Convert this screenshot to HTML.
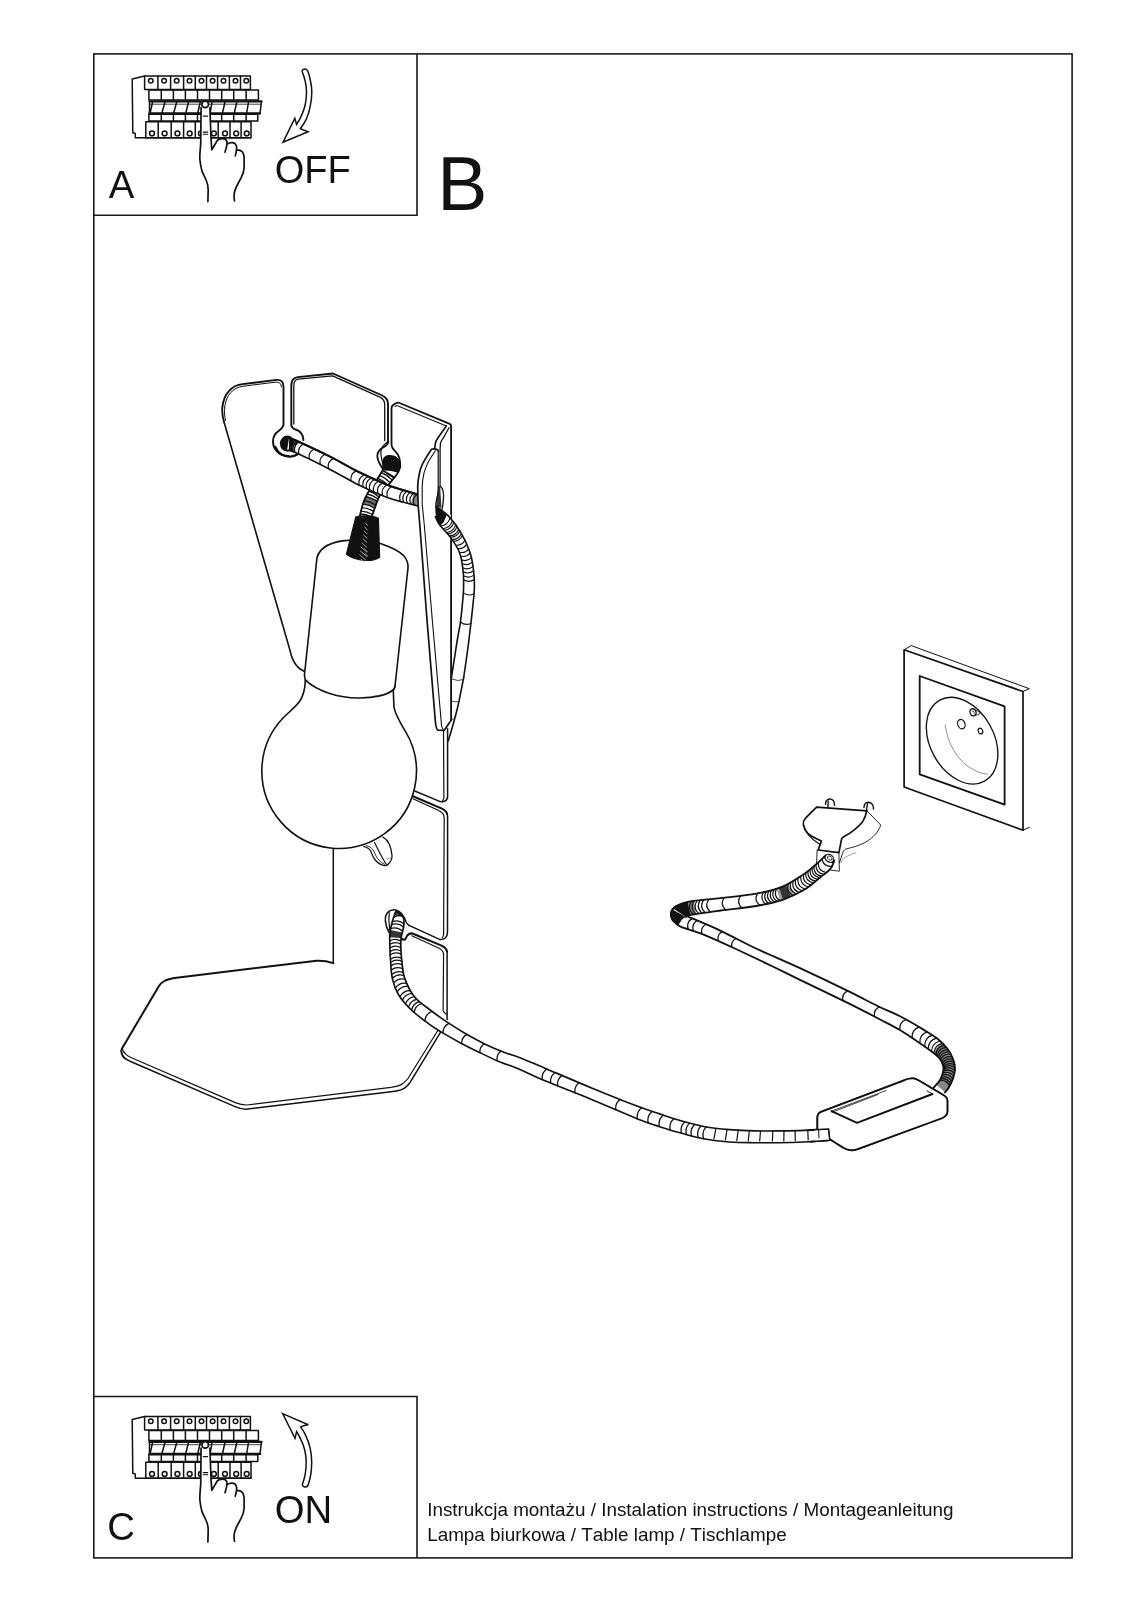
<!DOCTYPE html>
<html><head><meta charset="utf-8"><title>Instrukcja</title>
<style>html,body{margin:0;padding:0;background:#fff}svg{display:block}</style></head>
<body><svg width="1131" height="1600" viewBox="0 0 1131 1600">
<rect width="1131" height="1600" fill="#fff"/>
<g fill="none" stroke="#1a1a1a" stroke-width="1.6" stroke-linejoin="miter">
<rect x="93.8" y="53.9" width="978.3" height="1504"/>
<path d="M417 53.9V215.3H93.8"/>
<path d="M93.8 1396.5H417V1557.9"/>
</g>
<g font-family="Liberation Sans, sans-serif" fill="#111" style="filter:grayscale(1);font-kerning:none">
<text x="108.7" y="198.4" font-size="38.3">A</text>
<text x="274.8" y="182.8" font-size="38">OFF</text>
<text x="437.2" y="210" font-size="75.2">B</text>
<text x="107.3" y="1540.4" font-size="38.3">C</text>
<text x="274.8" y="1522.7" font-size="38.3">ON</text>
<text x="427.2" y="1515.9" font-size="18.88">Instrukcja montażu / Instalation instructions / Montageanleitung</text>
<text x="427.2" y="1540.7" font-size="18.88">Lampa biurkowa / Table lamp / Tischlampe</text>
</g>
<defs><g id="brk" fill="none" stroke="#111" stroke-width="1.5" stroke-linejoin="round" stroke-linecap="round">
<path d="M144.6 75.9L132.2 79L132.8 132.8L135.3 133.5L135.3 137.8L251 137.8" stroke-width="1.5"/>
<path d="M144.6 75.9H250.4V89.5H144.6Z" fill="#fff"/>
<path d="M157.9 75.9V89.5M170.6 75.9V89.5M183.6 75.9V89.5M195.3 75.9V89.5M206.5 75.9V89.5M217.6 75.9V89.5M229.4 75.9V89.5M240.5 75.9V89.5"/>
<circle cx="150.8" cy="80.7" r="2.3" stroke-width="1.5"/>
<circle cx="164.1" cy="80.7" r="2.3" stroke-width="1.5"/>
<circle cx="176.7" cy="80.7" r="2.3" stroke-width="1.5"/>
<circle cx="189.5" cy="80.7" r="2.3" stroke-width="1.5"/>
<circle cx="201.5" cy="80.7" r="2.3" stroke-width="1.5"/>
<circle cx="212.6" cy="80.7" r="2.3" stroke-width="1.5"/>
<circle cx="223.5" cy="80.7" r="2.3" stroke-width="1.5"/>
<circle cx="235.5" cy="80.7" r="2.3" stroke-width="1.5"/>
<circle cx="246.3" cy="80.7" r="2.3" stroke-width="1.5"/>
<path d="M148.9 90.1H258.4V100H148.9Z"/>
<path d="M161.3 90.1V100M173.4 90.1V100M185.4 90.1V100M197.5 90.1V100M209.5 90.1V100M221.7 90.1V100M233.7 90.1V100M246.1 90.1V100"/>
<path d="M149.5 101.4H261.5" stroke-width="2.2"/>
<path d="M149.5 113.4H260" stroke-width="2.4"/>
<path d="M150 104.2H261" stroke-width="0.8"/>
<path d="M149.5 101.4V113.4M261.5 101.4L260 113.4"/>
<path d="M152.6 102L150.1 113M165.0 102L161.9 113M176.7 102L173.7 113M188.5 102L185.8 113M200.3 102L197.8 113M212.0 102L210.2 113M225.0 102L222.5 113M236.8 102L234.3 113M248.5 102L246.7 113" stroke-width="1.5"/>
<path d="M148.9 114.3H257.8V121.1H148.9Z"/>
<path d="M161.3 114.3V121.1M173.4 114.3V121.1M185.4 114.3V121.1M197.5 114.3V121.1M209.5 114.3V121.1M221.7 114.3V121.1M233.7 114.3V121.1M246.1 114.3V121.1"/>
<path d="M145.8 121.7H251V137.8H145.8Z"/>
<path d="M158.2 121.7V137.8M171.2 121.7V137.8M183.6 121.7V137.8M195.3 121.7V137.8M207.1 121.7V137.8M218.2 121.7V137.8M230.0 121.7V137.8M241.1 121.7V137.8"/>
<circle cx="152.0" cy="133.4" r="2.4" stroke-width="1.5"/>
<circle cx="164.6" cy="133.4" r="2.4" stroke-width="1.5"/>
<circle cx="177.4" cy="133.4" r="2.4" stroke-width="1.5"/>
<circle cx="189.7" cy="133.4" r="2.4" stroke-width="1.5"/>
<circle cx="200.9" cy="133.4" r="2.4" stroke-width="1.5"/>
<circle cx="213.9" cy="133.4" r="2.4" stroke-width="1.5"/>
<circle cx="225.0" cy="133.4" r="2.4" stroke-width="1.5"/>
<circle cx="236.2" cy="133.4" r="2.4" stroke-width="1.5"/>
<circle cx="246.7" cy="133.4" r="2.4" stroke-width="1.5"/>
<path d="M201.1 108 L200.7 143.9 C200.3 150 199.5 155 199.9 159.8 C200.3 164 201 167.5 201.9 170.9 C203.5 175 205.3 177.5 206.3 180.5 C207.8 184 208.3 187 208.2 190 L207.9 201.6 L234.5 200.8 C234 198 233.8 196.5 234.1 194.8 C234.5 192.5 235 190.5 235.7 188.4 C237.5 184 239.8 181 241.3 177.3 C243 173.5 244 170.5 244.1 167.7 L244.1 157.4 C243.8 154 243 151.8 241.3 151 C240 150 238.5 150 237.3 150.2 L236.5 146.3 C235.5 143.5 233.8 142.5 231.7 142.7 C230 142.8 228.6 143.2 227.7 143.9 L226.9 141.5 C225.8 139.2 224 138.5 222.2 138.7 C220 139 218.5 139.5 217.4 140.3 L211.8 149.8 L211 138.3 L209.8 108 Z" fill="#fff" stroke="none"/>
<path d="M201.1 107.5 L200.7 143.9 C200.3 150 199.5 155 199.9 159.8 C200.3 164 201 167.5 201.9 170.9 C203.5 175 205.3 177.5 206.3 180.5 C207.8 184 208.3 187 208.2 190 L207.9 201.6" stroke-width="1.7"/>
<path d="M209.9 107.5 L211 138.3 L211.8 149.8 L217.4 140.3 C218.5 139.3 220 138.9 222.2 138.7 C224.5 138.5 226.2 139.5 226.9 141.5 C227.4 144 226.3 148 225 152.2" stroke-width="1.7"/>
<path d="M227.7 143.9 C228.6 143.2 230 142.8 231.7 142.7 C234 142.6 235.8 143.8 236.5 146.3 C237 149 236.3 152 235.3 155.8" stroke-width="1.7"/>
<path d="M237.3 150.2 C238.5 150 240 150.1 241.3 151 C243 152 243.8 154.5 244.1 157.4 L244.1 167.7 C244 171 243 174 241.3 177.3 C239.5 181 237.3 184.5 235.7 188.4 C234.7 191 234.2 193 234.1 194.8 C234 197 234.2 199 234.5 200.8" stroke-width="1.7"/>
<circle cx="205.2" cy="104.4" r="3.3" fill="#fff" stroke-width="1.7"/>
<path d="M203.3 116.1H207.6M203.3 132.1H207.7M203.3 134.2H207.7" stroke-width="1.1"/>
</g></defs>
<use href="#brk"/>
<use href="#brk" transform="translate(0 1340.5)"/>
<path d="M305 68.9 C303.2 68.9 301.8 70.2 302.2 71.8 C303.5 75 304.6 78.3 305.3 81.7 C306.1 85 306.5 88.6 306.5 92.2 C306.5 96.8 306 101.3 305 105.8 C304 109.6 302.6 113.3 300.9 116.9 C299.7 119.5 298.2 122 296.6 124.4 L294.8 118.2 L283 142.3 L308.1 131.8 L300.3 128.7 C302.7 125.6 304.8 122.3 306.5 118.8 C308.2 114.8 309.4 110.7 310.2 106.4 C311.2 101.7 311.8 97 311.8 92.2 C311.8 88.4 311.3 84.7 310.5 81 C309.9 77.6 309 74.3 307.8 71.1 C307.4 69.7 306.4 68.9 305 68.9Z" fill="#fff" stroke="#111" stroke-width="1.5" stroke-linejoin="miter"/>
<path d="M282.6 1413.6 L308.3 1424.8 C305.5 1425 303 1425.7 300.6 1426.9 C302.7 1429.7 304.5 1432.7 305.9 1435.9 C307.8 1439.9 309.2 1444 310.2 1448.3 C311.2 1452.8 311.7 1457.3 311.7 1461.9 C311.7 1466.1 311.4 1470.2 310.8 1474.3 C310.2 1478.1 309.2 1481.8 308 1485.4 C307.5 1486.5 306.4 1487.1 304.9 1486.9 C303.2 1486.7 302.1 1485.6 302.4 1484.2 C303.6 1481 304.6 1477.7 305.2 1474.3 C305.9 1470.2 306.2 1466.1 306.2 1461.9 C306.2 1457.7 305.6 1453.6 304.6 1449.5 C303.7 1446.1 302.5 1442.8 300.9 1439.6 C299.7 1436.8 298.2 1434.2 296.6 1431.6 L295 1438.4Z" fill="#fff" stroke="#111" stroke-width="1.5" stroke-linejoin="miter"/>
<g stroke-linejoin="round" stroke-linecap="round">
<path d="M304.5 671.4 C296 668 291.5 658 289.9 650 L224.1 422.3" fill="none" stroke="#111" stroke-width="1.6" />
<path d="M224.1 422.3 C222.3 416 221.8 412 222.4 406.8 C224 393 232 385.5 242.5 384.1 L276.5 379.9 C281.5 379.5 283.5 382 283.5 387 L283.5 424.5 C283 428.5 280.5 429.5 278.5 431 C275 433.5 273 437 273 441.4 C273 450 280 456 288.5 456 " fill="none" stroke="#111" stroke-width="1.9" />
<path d="M303.4 440 C303 433 299 430.5 295.5 429.5 C292.5 428.5 291.3 427 291.3 424.5 L291.3 385.6 C291.3 380 293.5 377.6 297.7 377.1 L333 373.5 L382.3 395.5 C386.5 397.5 388 400 388 404 L388 442.1 C387.5 446 384.5 446.5 382 448 C378.5 450.5 377 453.5 377.4 457 C378 462 380.5 465.5 383 469" fill="none" stroke="#111" stroke-width="1.9" />
<path d="M224.7 407.3 C226 394.5 233.3 387.8 243 386.2 L276 382.1 C279.5 381.9 281.3 383.6 281.4 386.8" fill="none" stroke="#111" stroke-width="1.0" />
<path d="M225.6 420.5 C224.5 416 224.2 412 224.7 407.3" fill="none" stroke="#111" stroke-width="1.0" />
<path d="M293.8 424 L293.8 386 C293.8 381.5 295.3 379.6 298.3 379.2 L332.6 375.8 L380.5 397.4 C384 399.3 384.7 401.5 384.7 404.5 L384.7 440.5" fill="none" stroke="#111" stroke-width="1.3" />
<path d="M275.3 447 C278 453.5 284.5 457.8 292 456.3 C296 455.5 299 453.5 301 451" fill="none" stroke="#111" stroke-width="2.2" />
<path d="M387.6 441.7 C385 444 382.8 445.5 382 447.4 C380.8 450 380.6 452.5 380.9 454.7 C381.3 458.5 382.5 463.5 384.2 467.6" fill="none" stroke="#111" stroke-width="1.2" />
<path d="M400 467.6 C400.5 463 400 460 399.3 457.7 C398 453 394 450.5 392.5 448 C391.5 446.5 391.5 445 391.5 443.5 L391.5 408.5 C391.5 406 392 405.4 393.5 404.8 L396.5 403 C397.5 402.4 398.5 402.5 399.5 403 L449.7 423.9 C450.8 424.5 451.3 425.5 451.3 426.7" fill="none" stroke="#111" stroke-width="1.8" />
<path d="M395 406.5 C395.5 405.8 396.5 405.6 397.5 405.8 L446.3 426" fill="none" stroke="#111" stroke-width="1.1" />
<path d="M451.1 426.7 L451.1 720.8" fill="none" stroke="#111" stroke-width="1.8" />
<path d="M446.3 426 L438 437.7 C436.3 440 435.3 442 435.3 443.9 L434.6 448.7" fill="none" stroke="#111" stroke-width="1.6" />
<path d="M449 427.7 L443.5 437.7 C441.5 440.5 440.4 442 440.4 443.9 L440.1 449.4 L440.1 485.8 C441 487.3 442.3 488 442.7 489.8 C443.6 492.5 443.7 495 443.5 497.5 C443.3 501 443 504.5 442.5 507.1 L441.8 509.9" fill="none" stroke="#111" stroke-width="1.3" />
<path d="M382.6 467.0 L382.6 467.1 L382.6 467.1 L382.7 467.2 L382.7 467.3 L382.7 467.3 L382.8 467.4 L382.8 467.5 L382.9 467.6 L382.9 467.7 L383.0 467.8 L383.0 467.9 L383.0 468.0 L383.1 468.2 L383.1 468.4 L383.0 468.6 L383.0 468.8 L382.9 469.0 L382.9 469.3 L382.7 469.6 L382.6 469.9 L382.4 470.3 L382.2 470.7 L382.0 471.1 L381.8 471.5 L381.5 472.0 L381.2 472.5 L381.0 473.0 L380.6 473.6 L380.3 474.2 L380.0 474.7 L379.7 475.3 L379.3 475.9 L378.9 476.5 L378.6 477.1 L378.2 477.7 L377.8 478.3 L377.5 478.9 L377.1 479.5 L376.8 480.0 L376.4 480.6 L376.0 481.1 L375.7 481.7 L375.3 482.3 L374.9 482.8 L374.5 483.4 L374.1 483.9 L373.6 484.5 L373.2 485.1 L372.8 485.6 L372.4 486.2 L372.0 486.8 L371.5 487.3 L371.1 487.9 L370.7 488.5 L370.3 489.0 L369.9 489.6 L369.5 490.1 L369.2 490.7 L368.8 491.3 L368.5 491.8 L368.2 492.3 L367.9 492.9 L367.6 493.4 L367.3 493.9 L367.0 494.4 L366.7 495.0 L366.4 495.5 L366.2 496.0 L365.9 496.5 L365.7 497.0 L365.4 497.5 L365.2 498.0 L365.0 498.6 L364.7 499.1 L364.5 499.6 L364.3 500.2 L364.1 500.7 L363.8 501.3 L363.6 501.9 L363.4 502.5 L363.2 503.1 L363.0 503.8 L362.7 504.5 L362.5 505.2 L362.3 506.0 L362.1 506.8 L361.9 507.6 L361.7 508.3 L361.5 509.1 L361.3 509.9 L361.1 510.7 L360.9 511.4 L360.7 512.2 L360.6 512.9 L360.4 513.5 L360.3 514.1 L360.1 514.7 L360.0 515.2 L359.9 515.6 L359.8 516.0 L371.6 517.0 L371.7 516.7 L371.9 516.3 L372.0 515.9 L372.2 515.4 L372.4 514.8 L372.6 514.3 L372.8 513.7 L373.0 513.1 L373.2 512.4 L373.5 511.8 L373.7 511.1 L373.9 510.4 L374.2 509.7 L374.4 509.0 L374.7 508.4 L374.9 507.7 L375.1 507.1 L375.4 506.4 L375.6 505.9 L375.8 505.3 L376.0 504.8 L376.2 504.3 L376.4 503.8 L376.5 503.3 L376.7 502.8 L376.8 502.3 L377.0 501.8 L377.1 501.4 L377.3 500.9 L377.5 500.5 L377.6 500.0 L377.8 499.6 L378.0 499.1 L378.2 498.6 L378.4 498.2 L378.6 497.7 L378.8 497.2 L379.1 496.7 L379.4 496.2 L379.7 495.7 L380.0 495.2 L380.4 494.6 L380.8 494.1 L381.2 493.6 L381.6 493.0 L382.0 492.4 L382.5 491.9 L383.0 491.3 L383.4 490.7 L383.9 490.2 L384.4 489.6 L384.9 489.0 L385.4 488.4 L385.9 487.9 L386.4 487.3 L386.9 486.7 L387.3 486.2 L387.8 485.6 L388.3 485.1 L388.7 484.5 L389.1 484.0 L389.6 483.4 L390.1 482.8 L390.5 482.3 L391.0 481.7 L391.5 481.2 L391.9 480.6 L392.4 480.0 L392.9 479.5 L393.3 478.9 L393.8 478.4 L394.2 477.8 L394.6 477.3 L395.1 476.8 L395.5 476.3 L395.8 475.7 L396.2 475.2 L396.6 474.8 L396.9 474.3 L397.2 473.8 L397.5 473.3 L397.7 472.9 L398.0 472.4 L398.2 471.9 L398.4 471.5 L398.7 471.0 L398.8 470.5 L399.0 470.1 L399.2 469.7 L399.3 469.2 L399.5 468.8 L399.6 468.4 L399.7 468.0 L399.8 467.7 L399.9 467.3 L400.0 467.0 L400.1 466.7 L400.2 466.5 L400.3 466.2 L400.4 466.0Z" fill="#fff" stroke="none"/>
<path d="M382.8 469.5 L382.7 469.6 L382.7 469.6 L382.7 469.7 L382.7 469.8 L382.6 469.9 L382.6 470.0 L382.5 470.1 L382.4 470.3 L382.3 470.4 L382.2 470.6 L382.2 470.7 L382.1 471.0 L393.6 478.6 L393.8 478.3 L393.9 478.2 L394.1 478.0 L394.3 477.8 L394.4 477.6 L394.5 477.5 L394.7 477.2 L394.8 477.1 L394.9 477.0 L394.9 477.0 L394.9 476.9 L395.1 476.7Z" fill="#111" fill-opacity="1" stroke="none"/>
<path d="M366.5 495.4 L366.2 495.9 L365.9 496.6 L365.6 497.2 L365.3 497.8 L365.0 498.5 L364.7 499.2 L364.4 500.0 L364.1 500.7 L363.8 501.4 L363.6 502.1 L363.3 502.7 L363.1 503.4 L375.0 507.6 L375.2 507.0 L375.4 506.4 L375.6 505.9 L375.8 505.2 L376.1 504.5 L376.4 503.6 L376.6 503.0 L376.8 502.3 L377.0 501.7 L377.2 501.2 L377.4 500.7 L377.5 500.2Z" fill="#111" fill-opacity="0.6" stroke="none"/>
<path d="M381.3 472.5Q387.7 475.0 392.3 480.1M379.6 475.3Q385.8 477.8 390.1 482.7M377.9 478.3Q383.8 480.6 387.9 485.4M376.1 481.1Q381.7 483.5 385.6 488.2M374.4 483.5Q379.8 486.0 383.5 490.7M372.5 486.1Q377.9 488.4 381.6 493.0M370.6 488.6Q376.1 490.7 380.1 495.2M368.9 491.2Q374.6 492.9 378.9 497.1M367.3 494.0Q373.2 495.2 378.0 499.1M365.8 496.8Q372.0 497.8 377.1 501.4M364.1 500.6Q370.5 501.4 375.9 505.1M362.8 504.2Q369.3 504.8 374.7 508.2M361.8 507.7Q368.2 508.1 373.6 511.3M361.0 511.1Q367.2 511.4 372.5 514.5M360.3 514.0Q366.3 514.2 371.6 517.0" fill="none" stroke="#111" stroke-width="1.35" />
<path d="M382.6 467.0 C382.6 467.5 383.6 467.6 382.6 469.9 C381.6 472.2 378.8 477.0 376.4 480.6 C374.0 484.2 370.7 488.2 368.5 491.8 C366.3 495.4 364.8 498.5 363.4 502.5 C361.9 506.5 360.4 513.8 359.8 516.0" fill="none" stroke="#111" stroke-width="1.8" stroke-linecap="round"/>
<path d="M400.4 466.0 C399.9 467.3 399.1 470.7 397.2 473.8 C395.2 476.9 391.6 480.9 388.7 484.5 C385.8 488.1 381.8 492.2 379.7 495.7 C377.6 499.2 377.1 501.8 375.8 505.3 C374.5 508.9 372.3 515.0 371.6 517.0" fill="none" stroke="#111" stroke-width="1.8" stroke-linecap="round"/>
<path d="M383.4 470 C381 463 382 457 387 455.3 C392.5 453.8 399 456.5 400.3 462.5 C400.9 465.5 400.5 469 399 472.5 L398.5 472.8 L391 471 L384.2 470.5Z" fill="#111" stroke="none"/>
<ellipse cx="287.3" cy="443.6" rx="7.4" ry="8" fill="#111"/>
<path d="M289.0 438.0 L289.1 438.0 L289.2 438.1 L289.3 438.1 L289.3 438.0 L289.4 438.0 L289.4 438.0 L289.5 438.0 L289.5 438.0 L289.6 438.0 L289.8 438.0 L289.9 438.0 L290.2 438.1 L290.4 438.1 L290.8 438.3 L291.2 438.4 L291.8 438.6 L292.4 438.9 L293.1 439.2 L293.9 439.6 L294.9 440.0 L296.0 440.5 L297.3 441.1 L298.6 441.7 L300.2 442.4 L301.8 443.2 L303.5 444.0 L305.3 444.8 L307.2 445.7 L309.1 446.6 L311.0 447.5 L313.0 448.4 L315.0 449.4 L317.1 450.3 L319.0 451.3 L321.0 452.2 L322.9 453.1 L324.8 454.0 L326.6 454.9 L328.4 455.8 L330.0 456.6 L331.6 457.4 L333.1 458.2 L334.6 459.0 L336.1 459.8 L337.6 460.6 L339.0 461.3 L340.4 462.1 L341.8 462.9 L343.2 463.7 L344.6 464.4 L345.9 465.2 L347.3 466.0 L348.7 466.7 L350.0 467.5 L351.4 468.2 L352.7 468.9 L354.1 469.7 L355.5 470.4 L356.9 471.1 L358.3 471.8 L359.7 472.5 L361.2 473.2 L362.7 473.9 L364.1 474.6 L365.6 475.3 L367.1 476.0 L368.7 476.7 L370.2 477.4 L371.7 478.1 L373.2 478.8 L374.6 479.5 L376.1 480.1 L377.5 480.7 L378.9 481.4 L380.3 482.0 L381.7 482.5 L383.0 483.1 L384.2 483.6 L385.4 484.1 L386.6 484.6 L387.7 485.0 L388.8 485.5 L389.8 485.8 L390.7 486.2 L391.7 486.5 L392.6 486.8 L393.4 487.1 L394.3 487.4 L395.1 487.7 L395.9 487.9 L396.7 488.1 L397.5 488.4 L398.2 488.6 L399.0 488.8 L399.7 489.0 L400.5 489.3 L401.2 489.5 L402.0 489.7 L402.8 490.0 L403.6 490.2 L404.4 490.5 L405.3 490.7 L406.1 491.0 L407.0 491.3 L407.9 491.5 L408.8 491.8 L409.7 492.1 L410.6 492.3 L411.5 492.6 L412.4 492.9 L413.2 493.1 L414.0 493.3 L414.8 493.6 L415.6 493.8 L416.3 494.0 L416.9 494.2 L417.5 494.4 L418.1 494.5 L418.6 494.7 L419.0 494.8 L419.0 506.2 L418.6 506.1 L418.1 506.0 L417.5 505.8 L416.9 505.7 L416.3 505.5 L415.6 505.4 L414.8 505.2 L414.0 505.0 L413.2 504.8 L412.4 504.6 L411.5 504.3 L410.6 504.1 L409.7 503.9 L408.8 503.7 L407.9 503.4 L407.0 503.2 L406.1 503.0 L405.3 502.8 L404.4 502.5 L403.6 502.3 L402.8 502.1 L402.0 501.9 L401.2 501.7 L400.5 501.5 L399.7 501.3 L399.0 501.1 L398.2 500.9 L397.5 500.7 L396.7 500.5 L395.9 500.3 L395.1 500.1 L394.3 499.9 L393.4 499.6 L392.6 499.4 L391.7 499.1 L390.7 498.8 L389.8 498.5 L388.8 498.1 L387.7 497.7 L386.6 497.3 L385.4 496.8 L384.2 496.4 L383.0 495.9 L381.7 495.3 L380.3 494.8 L378.9 494.2 L377.5 493.6 L376.1 493.0 L374.6 492.3 L373.2 491.7 L371.7 491.0 L370.2 490.4 L368.7 489.7 L367.1 489.0 L365.6 488.3 L364.1 487.6 L362.7 486.9 L361.2 486.2 L359.7 485.5 L358.3 484.8 L356.9 484.1 L355.5 483.4 L354.1 482.7 L352.7 481.9 L351.4 481.2 L350.0 480.4 L348.7 479.7 L347.3 478.9 L345.9 478.2 L344.6 477.4 L343.2 476.6 L341.8 475.8 L340.4 475.0 L339.0 474.2 L337.6 473.4 L336.1 472.6 L334.6 471.8 L333.1 471.0 L331.6 470.2 L330.0 469.4 L328.4 468.6 L326.6 467.7 L324.8 466.8 L323.0 465.8 L321.1 464.9 L319.1 463.9 L317.1 462.9 L315.1 461.9 L313.2 461.0 L311.2 460.0 L309.2 459.0 L307.3 458.1 L305.4 457.2 L303.6 456.4 L301.9 455.5 L300.3 454.8 L298.8 454.1 L297.3 453.4 L296.0 452.8 L294.9 452.3 L293.9 451.9 L293.0 451.5 L292.2 451.2 L291.5 450.9 L290.8 450.7 L290.3 450.6 L289.8 450.5 L289.4 450.4 L289.1 450.3 L288.8 450.3 L288.5 450.3 L288.3 450.4 L288.1 450.4 L287.9 450.4 L287.8 450.5 L287.6 450.5 L287.5 450.5 L287.3 450.5 L287.2 450.5 L287.0 450.5Z" fill="#fff" stroke="none"/>
<path d="M289.2 438.1 L289.2 438.1 L291.6 438.6 L291.9 438.7 L292.1 438.8 L292.5 438.9 L292.7 439.0 L293.0 439.1 L293.3 439.3 L293.5 439.4 L293.9 439.5 L294.2 439.7 L294.5 439.8 L290.5 450.6 L290.3 450.6 L290.2 450.6 L289.8 450.5 L289.8 450.5 L289.6 450.4 L289.4 450.4 L289.4 450.4 L289.1 450.4 L289.1 450.3 L289.1 450.3 L288.8 450.3 L288.8 450.3Z" fill="#111" fill-opacity="1" stroke="none"/>
<path d="M413.8 493.3 L414.2 493.4 L414.7 493.5 L415.1 493.7 L415.6 493.8 L416.0 493.9 L416.5 494.1 L417.0 494.2 L417.4 494.3 L417.9 494.5 L418.3 494.6 L418.8 494.7 L419.0 494.8 L416.4 505.5 L415.9 505.4 L415.4 505.3 L415.0 505.2 L414.5 505.1 L414.1 505.0 L413.6 504.9 L413.1 504.7 L412.7 504.6 L412.2 504.5 L411.7 504.4 L411.3 504.3 L410.8 504.2Z" fill="#111" fill-opacity="0.5" stroke="none"/>
<path d="M294.0 439.6Q287.8 443.6 290.3 450.6M295.2 440.1Q288.9 443.8 291.1 450.8M296.5 440.7Q290.2 444.2 292.2 451.2M297.9 441.4Q291.6 444.7 293.4 451.7M299.4 442.0Q293.0 445.3 294.8 452.3M303.6 444.0Q297.2 447.2 298.9 454.1M314.3 449.0Q307.8 452.1 309.4 459.1M325.2 454.2Q318.6 457.3 320.2 464.4M333.6 458.4Q326.9 461.4 328.4 468.6M356.5 470.9Q349.7 473.8 351.1 481.0M364.3 474.7Q357.5 477.9 359.2 485.2M368.2 476.5Q361.4 479.8 363.2 487.2M371.4 478.0Q364.7 481.4 366.5 488.7M374.6 479.5Q367.9 482.9 369.8 490.2M378.6 481.2Q371.9 484.7 373.8 492.0M382.5 482.9Q375.9 486.5 377.9 493.7M387.1 484.8Q380.5 488.5 382.6 495.7M391.6 486.5Q385.1 490.4 387.5 497.7M403.6 490.2Q397.6 494.6 400.5 501.5M406.9 491.2Q400.8 495.5 403.7 502.3M410.3 492.2Q404.4 496.5 407.3 503.3M413.8 493.3Q407.9 497.5 410.8 504.2M417.2 494.3Q411.4 498.5 414.3 505.0" fill="none" stroke="#111" stroke-width="1.2" />
<path d="M289.0 438.0 C290.0 438.3 288.1 436.9 294.9 440.0 C301.7 443.1 319.4 451.3 330.0 456.6 C340.6 461.9 348.9 467.1 358.3 471.8 C367.7 476.5 379.1 481.5 386.6 484.6 C394.2 487.7 398.2 488.5 403.6 490.2 C409.0 491.9 416.4 494.0 419.0 494.8" fill="none" stroke="#111" stroke-width="1.7" stroke-linecap="round"/>
<path d="M287.0 450.5 C288.3 450.8 287.7 449.2 294.9 452.3 C302.1 455.4 319.4 464.0 330.0 469.4 C340.6 474.8 348.9 480.1 358.3 484.8 C367.7 489.5 379.1 494.4 386.6 497.3 C394.2 500.2 398.2 500.8 403.6 502.3 C409.0 503.8 416.4 505.6 419.0 506.2" fill="none" stroke="#111" stroke-width="1.7" stroke-linecap="round"/>
<path d="M289.0 438.0 C290.0 438.3 288.1 436.9 294.9 440.0 C301.7 443.1 319.4 451.3 330.0 456.6 C340.6 461.9 348.9 467.1 358.3 471.8 C367.7 476.5 379.1 481.5 386.6 484.6 C394.2 487.7 398.2 488.5 403.6 490.2 C409.0 491.9 416.4 494.0 419.0 494.8" fill="none" stroke="#111" stroke-width="2.1" />
<path d="M316.5 562 C316.8 550 327 542.8 344.5 540.6 C360 539 372 540.5 380.4 543.5 C392 547.5 400 551.3 404 556 C407 559.5 408.3 563 408 568 L395 686 C394.8 687.8 394.3 688.8 393.5 689.6 C388 695 374 698.2 358 698 C340 697.7 318 692 305.4 680.1 L304.4 675.3Z" fill="#fff" stroke="#111" stroke-width="1.6" />
<path d="M355.8 517 C361 515 373 515.5 378.4 518.3 L379.6 557.5 C372 562.5 355 561 346.4 554.3Z" fill="#111" stroke="#111" stroke-width="1.2"/>
<path d="M365.5 523l2 2.5M364.8 527l2.5 3M364.2 531l3 3M363.6 535l3.4 3.2M363 539l3.8 3.4M362 543l4.5 4M361 547l5.5 4.8M360.3 551l6.5 5.5M359.8 555l6 5M361 559.3l3 2.2M364.5 549l3 2.8M365 553.5l2.8 2.6" stroke="#aaa" stroke-width="0.9" fill="none"/>
<path d="M305.4 680.1 C305 689 303.5 696 299.5 701.5 C295 707.5 289 712 283 718 A77.3 77.3 0 1 0 405.6 731.7 C399.5 721.5 394.3 713 393.9 706 L393.3 690 C380 699 340 700 305.4 680.1Z" fill="#fff" stroke="none" stroke-width="0.1" />
<path d="M305.4 680.1 C305 689 303.5 696 299.5 701.5 C295 707.5 289 712 283 718 A77.3 77.3 0 1 0 405.6 731.7 C399.5 721.5 394.3 713 393.9 706 L393.3 690" fill="none" stroke="#111" stroke-width="1.6" />
<path d="M305.4 680.1 C318 692 340 697.7 358 698 C374 698.2 388 695 393.5 689.6 C394.3 688.8 394.8 687.8 395 686" fill="none" stroke="#111" stroke-width="1.6" />
<path d="M363.7 846.4 C367.5 847.5 369.5 849 370.8 851.3 C372.5 855 373 857.5 375 859.8 C377.5 862.8 380.5 864.8 383.5 865.4 C385.5 865.8 387 865.5 387.9 864.5 C390.5 862 392.3 858.5 392 855.4 C391.6 851 390.8 847.5 389.2 844 C387.5 840.5 385.5 838.5 382.8 837" fill="#fff" stroke="#111" stroke-width="1.3" />
<path d="M366.5 845.6 C370 846.5 372.3 848.3 373.6 850.8 C375.3 854.3 376 856.8 378 859 C380 861.3 382.3 863.2 384.6 864.3" fill="none" stroke="#111" stroke-width="0.9" />
<path d="M374.5 842.5 C378 849 381 856.5 386.5 864.5" fill="none" stroke="#111" stroke-width="1.2" />
<path d="M386.8 859 C388.5 859.2 390.3 858.3 391.6 857" fill="none" stroke="#555" stroke-width="0.7" />
<path d="M436.6 449.4 C434.5 448.6 433 448.7 431.5 449.2 C428.5 453.5 425.5 458.5 422.9 463.1 C421 467 420 470 419.4 473.4 C418.2 479 417.7 483 417.7 487.2 L418.1 504.4 L419.8 525 L427 620 L435.4 721.7 C435.8 726.5 436.5 729.5 438 730.1 L444.2 730.5 L450.8 720.8 L450.8 515 L441 509 C438.5 503 438 498 438 490.6 L438 450.8 C437.8 450 437.3 449.6 436.6 449.4Z" fill="#fff" stroke="none" stroke-width="0.1" />
<path d="M438.3 450.8 C437.8 449.8 437.2 449.5 436.6 449.4 C434.5 448.6 433 448.7 431.5 449.2 C428.5 453.5 425.5 458.5 422.9 463.1 C421 467 420 470 419.4 473.4 C418.2 479 417.7 483 417.7 487.2 L418.1 504.4 L419.8 525 L427 620 L435.4 721.7 C435.8 726.5 436.5 729.5 438 730.1 L444.2 730.5 L450.8 720.8" fill="none" stroke="#111" stroke-width="1.7" />
<path d="M435.3 450.8 C432.5 455 430 459 427.7 463.1 C426 467 424.8 470 423.9 473.4 C422.8 478.5 422.2 483 422.2 487.2 L422.2 504.4 L424.3 525 L432.3 620 L441.6 726.1 L443.3 730" fill="none" stroke="#111" stroke-width="1.1" />
<path d="M438.2 450.8 L438.2 490.6 C438 493.5 437.6 495.5 437 497.5 C436.5 500.5 436 502.5 435.6 504.4" fill="none" stroke="#111" stroke-width="1.2" />
<path d="M438.2 486 L440.1 486 L441.5 508 L436 506 C436.5 500 437.5 493 438.2 486Z" fill="#111" fill-opacity="0.85"/>
<path d="M435.9 506.1 L436.3 506.4 L436.7 506.7 L437.2 507.0 L437.7 507.4 L438.3 507.8 L438.9 508.3 L439.6 508.8 L440.2 509.3 L441.0 509.8 L441.7 510.3 L442.4 510.9 L443.2 511.5 L444.0 512.1 L444.7 512.7 L445.5 513.3 L446.2 513.9 L447.0 514.6 L447.7 515.3 L448.3 515.9 L449.0 516.6 L449.6 517.3 L450.3 518.0 L450.9 518.7 L451.6 519.5 L452.2 520.3 L452.8 521.0 L453.5 521.9 L454.1 522.7 L454.7 523.5 L455.4 524.4 L456.0 525.2 L456.6 526.1 L457.2 526.9 L457.8 527.8 L458.4 528.7 L459.0 529.6 L459.6 530.5 L460.1 531.4 L460.7 532.3 L461.2 533.2 L461.7 534.1 L462.2 535.0 L462.8 536.0 L463.3 536.9 L463.8 537.9 L464.3 538.8 L464.7 539.8 L465.2 540.8 L465.7 541.8 L466.1 542.8 L466.6 543.8 L467.0 544.8 L467.4 545.8 L467.9 546.8 L468.3 547.7 L468.6 548.7 L469.0 549.7 L469.3 550.6 L469.7 551.6 L470.0 552.5 L470.3 553.4 L470.6 554.3 L470.8 555.2 L471.1 556.1 L471.3 557.0 L471.5 557.9 L471.7 558.8 L471.9 559.6 L472.1 560.5 L472.2 561.4 L472.4 562.2 L472.5 563.1 L472.7 563.9 L472.8 564.8 L472.9 565.7 L473.1 566.5 L473.2 567.4 L473.3 568.3 L473.4 569.1 L473.5 570.0 L473.6 570.9 L473.7 571.8 L473.8 572.6 L473.9 573.5 L474.0 574.4 L474.0 575.2 L474.1 576.1 L474.2 577.0 L474.2 577.9 L474.3 578.8 L474.3 579.6 L474.3 580.5 L474.4 581.4 L474.4 582.2 L474.4 583.1 L474.4 584.0 L474.4 584.9 L474.4 585.8 L474.4 586.6 L474.4 587.5 L474.4 588.4 L474.3 589.3 L474.3 590.1 L474.3 591.0 L474.2 591.9 L474.1 592.7 L474.1 593.6 L474.0 594.5 L473.9 595.4 L473.8 596.2 L473.7 597.1 L473.6 598.0 L473.6 598.9 L473.5 599.8 L473.4 600.6 L473.3 601.5 L473.2 602.4 L473.1 603.2 L473.0 604.1 L472.9 605.0 L472.8 605.9 L472.7 606.7 L472.6 607.6 L472.6 608.4 L472.5 609.3 L472.4 610.1 L472.3 610.9 L472.2 611.8 L472.1 612.6 L472.0 613.4 L471.9 614.3 L471.8 615.1 L471.7 616.0 L471.6 616.9 L471.5 617.8 L471.4 618.7 L471.3 619.6 L471.2 620.5 L471.1 621.5 L471.0 622.5 L470.9 623.5 L470.8 624.5 L470.7 625.5 L470.5 626.5 L470.4 627.5 L470.3 628.6 L470.2 629.6 L470.1 630.7 L469.9 631.7 L469.8 632.8 L469.7 633.9 L469.6 635.0 L469.4 636.2 L469.3 637.4 L469.1 638.6 L469.0 639.8 L468.8 641.0 L468.7 642.3 L468.5 643.6 L468.3 645.0 L468.1 646.4 L467.9 647.9 L467.7 649.4 L467.5 651.0 L467.3 652.6 L467.1 654.2 L466.9 655.9 L466.6 657.6 L466.4 659.3 L466.2 661.0 L465.9 662.7 L465.7 664.5 L465.4 666.2 L465.2 667.9 L464.9 669.6 L464.7 671.2 L464.4 672.9 L464.2 674.4 L463.9 676.0 L463.7 677.5 L463.5 679.0 L463.2 680.4 L462.9 681.9 L462.7 683.3 L462.4 684.7 L462.1 686.1 L461.9 687.5 L461.6 688.9 L461.3 690.3 L461.1 691.6 L460.8 692.9 L460.5 694.2 L460.3 695.5 L460.0 696.8 L459.7 698.0 L459.4 699.3 L459.2 700.5 L458.9 701.7 L458.7 702.9 L458.4 704.0 L458.1 705.1 L457.9 706.2 L457.6 707.3 L457.4 708.3 L457.2 709.3 L456.9 710.3 L456.7 711.2 L456.4 712.2 L456.2 713.1 L455.9 714.0 L455.7 714.9 L455.5 715.8 L455.2 716.7 L455.0 717.6 L454.7 718.5 L454.5 719.4 L454.3 720.3 L454.0 721.2 L453.8 722.1 L453.5 723.0 L453.2 723.9 L453.0 724.9 L452.7 725.9 L452.4 727.0 L452.1 728.0 L451.8 729.1 L451.5 730.1 L451.2 731.2 L450.8 732.2 L450.5 733.2 L450.2 734.2 L450.0 735.2 L449.7 736.1 L449.4 737.0 L449.2 737.9 L448.9 738.7 L448.7 739.4 L448.5 740.0 L448.3 740.6 L448.2 741.1 L450.8 720.8 L451.3 678.4 L451.5 677.3 L451.7 676.0 L451.9 674.5 L452.2 672.8 L452.4 671.0 L452.8 669.0 L453.1 667.0 L453.4 664.8 L453.8 662.6 L454.1 660.3 L454.5 658.0 L454.8 655.7 L455.2 653.4 L455.5 651.2 L455.9 649.0 L456.2 647.0 L456.5 645.0 L456.8 643.2 L457.1 641.5 L457.3 640.0 L457.5 638.7 L457.7 637.4 L457.9 636.2 L458.1 635.2 L458.3 634.2 L458.5 633.2 L458.6 632.3 L458.8 631.5 L459.0 630.7 L459.1 629.9 L459.2 629.2 L459.4 628.5 L459.5 627.8 L459.6 627.1 L459.8 626.4 L459.9 625.7 L460.0 624.9 L460.2 624.2 L460.3 623.4 L460.4 622.5 L460.5 621.6 L460.6 620.8 L460.8 619.9 L460.9 619.0 L461.0 618.1 L461.1 617.2 L461.2 616.4 L461.3 615.5 L461.4 614.6 L461.5 613.8 L461.6 612.9 L461.6 612.0 L461.7 611.1 L461.8 610.2 L461.9 609.4 L462.0 608.5 L462.1 607.6 L462.1 606.8 L462.2 605.9 L462.3 605.0 L462.4 604.1 L462.5 603.2 L462.5 602.4 L462.6 601.5 L462.7 600.6 L462.8 599.8 L462.9 598.9 L463.0 598.0 L463.0 597.1 L463.1 596.2 L463.2 595.4 L463.2 594.5 L463.3 593.6 L463.4 592.7 L463.4 591.9 L463.5 591.0 L463.5 590.1 L463.5 589.3 L463.6 588.4 L463.6 587.5 L463.6 586.6 L463.6 585.8 L463.6 584.9 L463.6 584.0 L463.7 583.1 L463.7 582.2 L463.6 581.4 L463.6 580.5 L463.6 579.6 L463.6 578.8 L463.6 577.9 L463.5 577.0 L463.5 576.1 L463.5 575.2 L463.4 574.4 L463.3 573.5 L463.3 572.6 L463.2 571.8 L463.1 570.9 L463.0 570.0 L462.9 569.1 L462.8 568.2 L462.7 567.4 L462.6 566.5 L462.5 565.6 L462.3 564.7 L462.2 563.8 L462.1 562.9 L461.9 562.0 L461.8 561.1 L461.6 560.2 L461.4 559.3 L461.2 558.4 L461.0 557.6 L460.8 556.7 L460.6 555.8 L460.3 555.0 L460.1 554.1 L459.8 553.3 L459.5 552.5 L459.2 551.7 L458.8 550.9 L458.5 550.1 L458.1 549.3 L457.7 548.5 L457.3 547.8 L456.9 547.0 L456.5 546.3 L456.0 545.5 L455.6 544.8 L455.1 544.0 L454.7 543.3 L454.2 542.6 L453.7 541.9 L453.2 541.1 L452.7 540.4 L452.2 539.7 L451.7 539.0 L451.2 538.3 L450.7 537.6 L450.2 536.9 L449.6 536.2 L449.1 535.5 L448.5 534.8 L447.9 534.1 L447.3 533.4 L446.6 532.7 L446.0 532.0 L445.4 531.3 L444.8 530.6 L444.1 529.9 L443.5 529.3 L442.9 528.6 L442.3 528.0 L441.8 527.4 L441.2 526.8 L440.7 526.2 L440.2 525.6 L439.8 525.0 L439.4 524.5 L439.0 524.0 L438.7 523.5 L438.4 523.0 L438.1 522.5 L437.8 522.0 L437.5 521.5 L437.3 521.0 L437.1 520.6 L436.9 520.2 L436.7 519.7 L436.5 519.3 L436.4 518.9 L436.2 518.6 L436.1 518.2 L435.9 517.9 L435.8 517.6 L435.7 517.3 L435.6 517.0 L435.5 516.8 L435.4 516.6Z" fill="#fff" stroke="none"/>
<path d="M435.3 505.3 L437.5 506.2 L447 514.5 L443.5 522.5 L440.3 525.5 C437 521.5 435 517 435.3 505.3Z" fill="#111"/>
<path d="M441.2 510.0 L441.5 510.1 L441.7 510.3 L441.9 510.5 L442.1 510.7 L442.4 510.8 L442.7 511.0 L442.9 511.3 L443.3 511.5 L443.6 511.8 L444.0 512.1 L444.4 512.4 L444.8 512.8 L436.3 518.8 L436.1 518.3 L435.9 517.8 L435.8 517.4 L435.6 517.1 L435.5 516.9 L435.5 516.7 L435.4 516.6 L435.4 516.6 L435.4 516.6 L435.4 516.6 L435.4 516.6 L435.4 516.6Z" fill="#111" fill-opacity="0.6" stroke="none"/>
<path d="M450.1 517.8Q448.0 525.0 440.6 526.0M452.4 520.6Q450.3 527.7 443.0 528.7M453.8 522.3Q451.7 529.3 444.4 530.2M455.8 524.9Q453.5 531.6 446.4 532.5M457.0 526.6Q454.7 533.2 447.7 533.9M458.7 529.2Q456.2 535.5 449.4 535.9M459.8 530.9Q457.1 537.1 450.4 537.2M461.5 533.6Q458.7 539.6 452.1 539.6M462.5 535.5Q459.7 541.3 453.2 541.2M465.0 540.3Q462.0 545.7 455.9 545.2M466.7 544.1Q463.6 549.2 457.7 548.5M468.7 548.8Q465.2 553.5 459.4 552.3M470.2 553.2Q466.3 557.7 460.6 556.0M471.5 557.7Q467.2 562.0 461.5 559.9M472.4 562.1Q467.8 566.2 462.2 563.8M473.0 566.4Q468.3 570.4 462.7 567.8M473.6 570.7Q468.7 574.6 463.2 571.8M474.0 575.1Q469.0 578.8 463.5 575.8M474.3 579.5Q469.1 583.1 463.6 579.8M474.1 593.7Q468.4 596.7 463.4 592.9M470.9 623.4Q465.3 626.0 460.5 622.0" fill="none" stroke="#111" stroke-width="1.15" />
<path d="M435.9 506.1 C438.1 507.9 444.8 512.1 449.0 516.6 C453.2 521.1 457.7 527.2 461.2 533.2 C464.7 539.2 467.9 546.4 470.0 552.5 C472.1 558.6 472.8 564.2 473.5 570.0 C474.2 575.8 474.5 581.7 474.4 587.5 C474.3 593.3 473.5 599.2 472.9 605.0 C472.3 610.8 471.8 615.8 471.0 622.5 C470.2 629.2 469.5 635.8 468.3 645.0 C467.1 654.2 464.5 672.1 463.7 677.5" fill="none" stroke="#111" stroke-width="1.6" stroke-linecap="round"/>
<path d="M435.4 516.6 C436.1 517.9 436.8 521.0 439.4 524.5 C441.9 528.0 447.3 532.9 450.7 537.6 C454.1 542.3 457.4 547.1 459.5 552.5 C461.6 557.9 462.3 564.2 463.0 570.0 C463.7 575.8 463.7 581.7 463.6 587.5 C463.5 593.3 462.8 599.2 462.3 605.0 C461.8 610.8 461.2 616.7 460.4 622.5 C459.6 628.3 458.8 630.7 457.3 640.0 C455.8 649.3 452.3 672.0 451.3 678.4" fill="none" stroke="#111" stroke-width="1.6" stroke-linecap="round"/>
<path d="M463.7 677.5 C462.8 681.9 460.1 696.4 458.4 704.0 C456.7 711.6 455.2 716.8 453.5 723.0 C451.8 729.2 449.1 738.1 448.2 741.1" fill="none" stroke="#111" stroke-width="1.6" />
<path d="M452 679 Q458 682 463.3 679.5 M451 701 Q455 702.5 458.8 701.5 M451 719.5 L454.5 718.6" fill="none" stroke="#333" stroke-width="0.9" />
<path d="M451.1 539 L451.1 720.8" fill="none" stroke="#111" stroke-width="1.8" />
<path d="M447.6 728.8 L447.6 796.6 C447.4 799.5 446 800.8 444.5 801.2 C443 801.7 441.5 801.8 440.2 801.6 L414.8 791" fill="none" stroke="#111" stroke-width="1.5" />
<path d="M443.5 730.5 L443.9 797 C443.8 799 443.3 800 442.6 800.6" fill="none" stroke="#111" stroke-width="1.2" />
<path d="M412.9 796.3 L441.4 808.4 C444.5 809.8 446.4 811.5 447 813.8" fill="none" stroke="#111" stroke-width="2.1" />
<path d="M447 813.8 C447.4 815 447.6 816 447.6 817 L447.5 932 C447.5 937 444.5 939.9 440.1 939.6 L409 925.4" fill="none" stroke="#111" stroke-width="1.5" />
<path d="M412.9 798.8 L438.3 810.2 C441.5 811.7 443 813 443.6 815 C444 816.3 444.2 817.3 444.2 818.3 L443.6 934 C443.5 936 443 937 442.3 937.6" fill="none" stroke="#111" stroke-width="1.2" />
<path d="M409 925.4 C407.5 924.5 406.5 923 406.1 921.9 C405 919 404 917 403.3 916.2 C400.5 911.5 396.5 909.6 392.7 909.9 C388 910.3 385 914.5 385.3 919.8 C385.6 924.5 387 929 389.1 932.5" fill="none" stroke="#111" stroke-width="1.5" />
<path d="M401.2 938.8 C403 939.6 404.2 939.8 404.7 939.6 C406 938.5 406.5 936.5 407.5 935.3 C409 933.6 411 933.2 412.5 933.5 L442.2 945.9 C445 947.3 446.5 949 447.1 951.6" fill="none" stroke="#111" stroke-width="2.1" />
<path d="M447.1 951.6 L447.1 1019.4" fill="none" stroke="#111" stroke-width="1.5" />
<path d="M411.8 935.7 L438.6 948 C441.5 949.5 443 951 443.6 953.7 L443.1 1010.7 C443.5 1012.5 445 1013.5 446.8 1014.5" fill="none" stroke="#111" stroke-width="1.2" />
<path d="M333.3 849.4 L333.3 963.1" fill="none" stroke="#111" stroke-width="1.5" />
<path d="M333.3 963.1 C328 961.3 322 960.5 316.6 960.7 L176.5 977.7 C170 978.7 167.5 979.5 165.2 980.5 C162.5 982 160.5 983.5 158.8 986.2 L124.1 1044.9 C122 1048 121 1050 121.3 1051.9 C121.8 1054.5 122.8 1056.3 124.1 1057.6" fill="none" stroke="#111" stroke-width="2.0" />
<path d="M124.1 1057.6 C126 1059.5 128.5 1060.7 131.2 1061.8 L234.5 1106.4 C238.5 1108.2 242 1109.2 245.8 1109.2 L391 1091.8 C398 1091 403.5 1089.8 406.5 1086.5 C408 1085 409.3 1083.6 410.1 1082.3 L440.5 1032.3" fill="none" stroke="#111" stroke-width="1.5" />
<path d="M122.4 1048.5 C122.6 1051 123.8 1052.8 125.6 1054.1 C127.5 1055.8 130 1057.2 132.6 1058.3 L235.9 1102.9 C239.5 1104.4 243 1105.1 247.2 1105 L391 1087.4 C396.5 1086.6 400 1085.8 402.5 1083.8 C404.5 1082.3 406.5 1080.5 408 1078.5 L437.8 1030.5" fill="none" stroke="#111" stroke-width="1.2" />
<path d="M389.2 912.7 C388.6 918 389 925 389.8 930.5" fill="none" stroke="#111" stroke-width="1.2" />
<path d="M396.5 911.0 L396.7 911.2 L396.9 911.4 L397.2 911.6 L397.5 911.9 L397.9 912.1 L398.2 912.4 L398.6 912.7 L399.0 913.0 L399.5 913.4 L399.9 913.7 L400.3 914.1 L400.7 914.5 L401.1 914.8 L401.5 915.2 L401.9 915.6 L402.2 916.0 L402.6 916.4 L402.9 916.8 L403.1 917.2 L403.3 917.6 L403.5 918.0 L403.6 918.4 L403.7 918.8 L403.8 919.3 L403.9 919.7 L404.0 920.1 L404.0 920.6 L404.0 921.0 L404.0 921.5 L404.0 921.9 L404.0 922.4 L404.0 922.9 L404.0 923.4 L403.9 923.9 L403.9 924.3 L403.8 924.8 L403.8 925.3 L403.7 925.8 L403.7 926.3 L403.6 926.8 L403.5 927.3 L403.5 927.8 L403.4 928.3 L403.3 928.8 L403.1 929.4 L403.0 929.9 L402.9 930.4 L402.7 931.0 L402.6 931.5 L402.4 932.1 L402.3 932.6 L402.1 933.2 L402.0 933.7 L401.9 934.2 L401.7 934.8 L401.6 935.3 L401.5 935.9 L401.4 936.4 L401.3 936.9 L401.2 937.4 L401.1 937.9 L401.1 938.4 L401.0 938.9 L401.0 939.3 L400.9 939.8 L400.9 940.2 L400.9 940.7 L400.8 941.1 L400.8 941.6 L400.8 942.0 L400.8 942.5 L400.8 943.0 L400.8 943.4 L400.8 943.9 L400.8 944.4 L400.8 944.9 L400.8 945.4 L400.8 945.9 L400.8 946.4 L400.8 947.0 L400.8 947.6 L400.8 948.1 L400.8 948.7 L400.9 949.3 L400.9 949.9 L400.9 950.5 L400.9 951.1 L401.0 951.7 L401.0 952.3 L401.0 952.9 L401.1 953.6 L401.1 954.2 L401.2 954.9 L401.2 955.6 L401.3 956.3 L401.4 957.0 L401.4 957.7 L401.5 958.5 L401.6 959.2 L401.7 960.0 L401.8 960.8 L401.9 961.6 L402.0 962.5 L402.1 963.4 L402.2 964.3 L402.3 965.2 L402.4 966.1 L402.5 967.0 L402.6 968.0 L402.7 969.0 L402.8 969.9 L403.0 970.9 L403.1 971.9 L403.3 972.9 L403.5 973.8 L403.7 974.8 L403.9 975.8 L404.2 976.7 L404.5 977.7 L404.8 978.6 L405.1 979.5 L405.5 980.5 L405.9 981.4 L406.3 982.4 L406.7 983.4 L407.1 984.3 L407.6 985.3 L408.0 986.3 L408.5 987.3 L409.0 988.2 L409.5 989.2 L410.1 990.1 L410.6 991.1 L411.2 992.0 L411.7 992.9 L412.3 993.8 L412.9 994.7 L413.5 995.5 L414.1 996.3 L414.7 997.1 L415.3 997.9 L416.0 998.6 L416.6 999.3 L417.3 1000.0 L418.0 1000.6 L418.7 1001.3 L419.4 1001.9 L420.1 1002.5 L420.9 1003.1 L421.6 1003.7 L422.4 1004.3 L423.2 1004.8 L423.9 1005.4 L424.7 1006.0 L425.5 1006.5 L426.3 1007.1 L427.1 1007.7 L427.9 1008.3 L428.7 1008.9 L429.5 1009.5 L430.3 1010.1 L431.1 1010.7 L431.9 1011.4 L432.8 1012.0 L433.6 1012.6 L434.4 1013.2 L435.3 1013.8 L436.1 1014.5 L437.0 1015.1 L437.8 1015.7 L438.7 1016.3 L439.6 1016.9 L440.5 1017.6 L441.3 1018.2 L442.2 1018.8 L443.1 1019.4 L444.0 1020.0 L445.0 1020.7 L445.9 1021.3 L446.8 1021.9 L447.7 1022.5 L448.7 1023.2 L449.6 1023.8 L450.6 1024.4 L451.6 1025.1 L452.6 1025.7 L453.6 1026.3 L454.6 1027.0 L455.6 1027.6 L456.6 1028.3 L457.6 1028.9 L458.6 1029.5 L459.7 1030.1 L460.7 1030.8 L461.7 1031.4 L462.7 1032.0 L463.7 1032.6 L464.7 1033.2 L465.6 1033.7 L466.6 1034.3 L467.6 1034.9 L468.5 1035.4 L469.5 1035.9 L470.4 1036.5 L471.3 1037.0 L472.3 1037.5 L473.2 1038.0 L474.1 1038.5 L475.1 1039.0 L476.0 1039.5 L476.9 1040.0 L477.8 1040.5 L478.7 1041.0 L479.7 1041.4 L480.6 1041.9 L481.5 1042.4 L482.4 1042.8 L483.3 1043.3 L484.3 1043.8 L485.2 1044.2 L486.1 1044.6 L487.1 1045.1 L488.0 1045.5 L489.0 1046.0 L489.9 1046.4 L490.9 1046.8 L491.8 1047.2 L492.8 1047.7 L493.7 1048.1 L494.6 1048.5 L495.6 1048.9 L496.5 1049.3 L497.5 1049.7 L498.4 1050.0 L499.3 1050.4 L500.2 1050.8 L501.1 1051.1 L502.0 1051.5 L502.9 1051.9 L503.8 1052.2 L504.7 1052.5 L505.5 1052.8 L506.3 1053.1 L507.1 1053.4 L507.8 1053.7 L508.6 1053.9 L509.3 1054.1 L510.0 1054.4 L510.8 1054.6 L511.5 1054.8 L512.2 1055.1 L513.0 1055.3 L513.8 1055.6 L514.6 1055.8 L515.4 1056.1 L516.2 1056.4 L517.1 1056.7 L518.0 1057.1 L519.0 1057.4 L520.0 1057.8 L521.0 1058.2 L522.0 1058.6 L523.1 1059.0 L524.1 1059.4 L525.1 1059.8 L526.2 1060.3 L527.3 1060.7 L528.4 1061.2 L529.5 1061.6 L530.6 1062.1 L531.8 1062.6 L533.1 1063.2 L534.3 1063.7 L535.7 1064.3 L537.1 1064.8 L538.5 1065.5 L540.0 1066.1 L541.6 1066.8 L543.3 1067.5 L545.0 1068.2 L546.8 1069.0 L548.7 1069.8 L550.8 1070.6 L552.9 1071.5 L555.0 1072.5 L557.3 1073.4 L559.5 1074.4 L561.9 1075.4 L564.3 1076.4 L566.7 1077.5 L569.1 1078.5 L571.6 1079.5 L574.1 1080.6 L576.5 1081.6 L579.0 1082.7 L581.5 1083.7 L583.9 1084.7 L586.3 1085.8 L588.7 1086.7 L591.0 1087.7 L593.3 1088.7 L595.7 1089.6 L598.1 1090.6 L600.6 1091.6 L603.0 1092.6 L605.5 1093.6 L608.0 1094.6 L610.5 1095.6 L613.0 1096.6 L615.4 1097.6 L617.9 1098.6 L620.3 1099.5 L622.6 1100.5 L624.9 1101.4 L627.1 1102.3 L629.3 1103.1 L631.3 1103.9 L633.3 1104.7 L635.2 1105.4 L637.0 1106.1 L638.7 1106.7 L640.2 1107.3 L641.7 1107.9 L643.1 1108.4 L644.4 1108.9 L645.7 1109.3 L646.9 1109.7 L648.0 1110.1 L649.1 1110.5 L650.1 1110.8 L651.1 1111.2 L652.1 1111.5 L653.1 1111.8 L654.0 1112.1 L655.0 1112.5 L656.0 1112.8 L656.9 1113.1 L657.9 1113.4 L658.9 1113.7 L660.0 1114.1 L661.1 1114.5 L662.1 1114.8 L663.1 1115.1 L664.1 1115.5 L665.1 1115.8 L666.1 1116.1 L667.0 1116.5 L668.0 1116.8 L668.9 1117.1 L669.9 1117.4 L670.8 1117.7 L671.8 1118.0 L672.8 1118.3 L673.7 1118.6 L674.7 1119.0 L675.7 1119.3 L676.8 1119.6 L677.8 1119.9 L678.9 1120.2 L680.0 1120.5 L681.1 1120.8 L682.3 1121.1 L683.5 1121.5 L684.7 1121.8 L685.9 1122.1 L687.1 1122.5 L688.3 1122.8 L689.6 1123.2 L690.8 1123.5 L692.1 1123.8 L693.4 1124.1 L694.7 1124.5 L695.9 1124.8 L697.2 1125.1 L698.5 1125.4 L699.8 1125.7 L701.0 1126.0 L702.3 1126.2 L703.6 1126.5 L704.8 1126.7 L706.0 1126.9 L707.3 1127.1 L708.5 1127.3 L709.7 1127.5 L711.0 1127.7 L712.2 1127.9 L713.4 1128.0 L714.7 1128.2 L715.9 1128.3 L717.1 1128.5 L718.4 1128.6 L719.6 1128.7 L720.9 1128.8 L722.1 1129.0 L723.3 1129.1 L724.6 1129.2 L725.8 1129.3 L727.0 1129.4 L728.3 1129.5 L729.5 1129.6 L730.7 1129.7 L732.0 1129.8 L733.2 1129.9 L734.5 1130.0 L735.7 1130.1 L736.9 1130.1 L738.2 1130.2 L739.4 1130.3 L740.7 1130.4 L741.9 1130.4 L743.1 1130.5 L744.4 1130.6 L745.6 1130.6 L746.9 1130.7 L748.1 1130.7 L749.3 1130.7 L750.6 1130.8 L751.8 1130.8 L753.1 1130.9 L754.3 1130.9 L755.5 1130.9 L756.8 1131.0 L758.0 1131.0 L759.2 1131.0 L760.5 1131.0 L761.7 1131.0 L762.9 1131.0 L764.2 1131.0 L765.4 1131.0 L766.6 1131.0 L767.9 1131.0 L769.1 1131.0 L770.4 1131.0 L771.6 1131.0 L772.8 1131.0 L774.1 1131.0 L775.3 1130.9 L776.5 1130.9 L777.8 1130.9 L779.0 1130.9 L780.2 1130.9 L781.5 1130.9 L782.7 1130.9 L784.0 1130.8 L785.2 1130.8 L786.4 1130.8 L787.7 1130.8 L788.9 1130.8 L790.2 1130.8 L791.4 1130.7 L792.6 1130.7 L793.9 1130.7 L795.1 1130.7 L796.4 1130.6 L797.6 1130.6 L798.8 1130.6 L800.1 1130.5 L801.3 1130.5 L802.6 1130.4 L803.8 1130.4 L805.1 1130.4 L806.4 1130.3 L807.8 1130.2 L809.2 1130.2 L810.6 1130.1 L812.0 1130.0 L813.5 1130.0 L814.9 1129.9 L816.3 1129.8 L817.8 1129.7 L819.1 1129.6 L820.5 1129.6 L821.8 1129.5 L823.0 1129.4 L824.1 1129.4 L825.2 1129.3 L826.2 1129.2 L827.1 1129.2 L827.9 1129.1 L828.6 1129.1 L829.8 1140.3 L829.1 1140.3 L828.2 1140.4 L827.3 1140.5 L826.2 1140.5 L825.1 1140.6 L823.9 1140.7 L822.6 1140.8 L821.2 1140.9 L819.8 1141.0 L818.4 1141.1 L816.9 1141.2 L815.4 1141.3 L813.8 1141.4 L812.3 1141.5 L810.8 1141.6 L809.3 1141.7 L807.9 1141.8 L806.5 1141.9 L805.1 1141.9 L803.8 1142.0 L802.5 1142.1 L801.3 1142.1 L800.0 1142.2 L798.8 1142.2 L797.5 1142.3 L796.3 1142.3 L795.0 1142.3 L793.8 1142.4 L792.6 1142.4 L791.3 1142.5 L790.1 1142.5 L788.9 1142.5 L787.6 1142.5 L786.4 1142.6 L785.2 1142.6 L783.9 1142.6 L782.7 1142.6 L781.5 1142.7 L780.2 1142.7 L779.0 1142.7 L777.8 1142.7 L776.5 1142.7 L775.3 1142.7 L774.1 1142.8 L772.8 1142.8 L771.6 1142.8 L770.4 1142.8 L769.1 1142.8 L767.9 1142.8 L766.6 1142.8 L765.4 1142.8 L764.2 1142.8 L762.9 1142.8 L761.7 1142.8 L760.5 1142.8 L759.2 1142.8 L758.0 1142.7 L756.8 1142.7 L755.5 1142.7 L754.3 1142.7 L753.1 1142.7 L751.8 1142.7 L750.6 1142.7 L749.3 1142.6 L748.1 1142.6 L746.9 1142.6 L745.6 1142.6 L744.4 1142.6 L743.1 1142.6 L741.9 1142.5 L740.7 1142.5 L739.4 1142.5 L738.2 1142.4 L736.9 1142.4 L735.7 1142.4 L734.5 1142.3 L733.2 1142.2 L732.0 1142.2 L730.7 1142.1 L729.5 1142.0 L728.3 1141.9 L727.0 1141.8 L725.8 1141.7 L724.6 1141.6 L723.3 1141.5 L722.1 1141.4 L720.9 1141.2 L719.6 1141.1 L718.4 1141.0 L717.1 1140.8 L715.9 1140.7 L714.7 1140.5 L713.4 1140.4 L712.2 1140.2 L711.0 1140.0 L709.7 1139.8 L708.5 1139.6 L707.3 1139.4 L706.0 1139.2 L704.8 1139.0 L703.6 1138.8 L702.3 1138.5 L701.0 1138.2 L699.8 1138.0 L698.5 1137.7 L697.2 1137.4 L695.9 1137.1 L694.7 1136.7 L693.4 1136.4 L692.1 1136.1 L690.8 1135.8 L689.6 1135.4 L688.3 1135.1 L687.1 1134.7 L685.9 1134.4 L684.7 1134.1 L683.5 1133.7 L682.3 1133.4 L681.1 1133.1 L680.0 1132.8 L678.9 1132.5 L677.8 1132.2 L676.8 1131.9 L675.7 1131.6 L674.7 1131.3 L673.7 1131.1 L672.8 1130.8 L671.8 1130.5 L670.8 1130.2 L669.9 1129.9 L668.9 1129.6 L668.0 1129.3 L667.0 1129.0 L666.1 1128.7 L665.1 1128.4 L664.1 1128.1 L663.1 1127.8 L662.1 1127.5 L661.1 1127.1 L660.0 1126.8 L658.9 1126.5 L657.9 1126.1 L656.9 1125.8 L656.0 1125.5 L655.0 1125.2 L654.0 1124.9 L653.1 1124.6 L652.1 1124.3 L651.1 1123.9 L650.1 1123.6 L649.1 1123.2 L648.0 1122.9 L646.9 1122.5 L645.7 1122.0 L644.4 1121.6 L643.1 1121.1 L641.7 1120.6 L640.2 1120.0 L638.7 1119.4 L637.0 1118.7 L635.2 1118.0 L633.3 1117.2 L631.3 1116.4 L629.3 1115.5 L627.1 1114.6 L624.9 1113.7 L622.6 1112.7 L620.3 1111.7 L617.9 1110.6 L615.4 1109.6 L613.0 1108.5 L610.5 1107.5 L608.0 1106.4 L605.5 1105.3 L603.0 1104.3 L600.6 1103.2 L598.1 1102.2 L595.7 1101.2 L593.3 1100.2 L591.0 1099.2 L588.7 1098.2 L586.3 1097.3 L583.9 1096.3 L581.5 1095.3 L579.0 1094.4 L576.5 1093.4 L574.1 1092.4 L571.6 1091.4 L569.1 1090.4 L566.7 1089.5 L564.3 1088.5 L561.9 1087.6 L559.5 1086.7 L557.3 1085.8 L555.0 1084.9 L552.9 1084.0 L550.8 1083.2 L548.7 1082.3 L546.8 1081.6 L545.0 1080.8 L543.3 1080.1 L541.6 1079.4 L540.1 1078.7 L538.6 1078.0 L537.2 1077.4 L535.9 1076.8 L534.6 1076.2 L533.4 1075.6 L532.2 1075.1 L531.0 1074.5 L529.9 1074.0 L528.8 1073.5 L527.7 1073.0 L526.6 1072.5 L525.6 1072.0 L524.5 1071.5 L523.4 1071.0 L522.3 1070.5 L521.2 1070.0 L520.0 1069.5 L518.8 1069.0 L517.6 1068.5 L516.5 1068.1 L515.3 1067.6 L514.1 1067.2 L513.0 1066.7 L511.8 1066.3 L510.7 1065.9 L509.5 1065.5 L508.4 1065.0 L507.3 1064.6 L506.2 1064.2 L505.1 1063.8 L504.0 1063.4 L502.9 1063.0 L501.8 1062.6 L500.7 1062.2 L499.7 1061.8 L498.6 1061.3 L497.6 1060.9 L496.6 1060.5 L495.6 1060.0 L494.6 1059.6 L493.6 1059.2 L492.7 1058.7 L491.7 1058.3 L490.8 1057.9 L489.9 1057.5 L489.0 1057.0 L488.1 1056.6 L487.2 1056.2 L486.3 1055.7 L485.4 1055.3 L484.5 1054.9 L483.6 1054.4 L482.7 1054.0 L481.7 1053.5 L480.8 1053.1 L479.9 1052.6 L479.0 1052.2 L478.1 1051.7 L477.1 1051.3 L476.2 1050.8 L475.3 1050.4 L474.4 1049.9 L473.4 1049.5 L472.5 1049.0 L471.6 1048.6 L470.7 1048.1 L469.8 1047.7 L468.8 1047.2 L467.9 1046.7 L467.0 1046.3 L466.1 1045.8 L465.1 1045.3 L464.2 1044.8 L463.3 1044.4 L462.4 1043.9 L461.4 1043.4 L460.5 1042.9 L459.6 1042.4 L458.6 1041.9 L457.7 1041.4 L456.7 1040.8 L455.7 1040.3 L454.7 1039.8 L453.8 1039.2 L452.8 1038.7 L451.8 1038.1 L450.8 1037.6 L449.9 1037.0 L448.9 1036.5 L448.0 1035.9 L447.0 1035.4 L446.1 1034.9 L445.2 1034.4 L444.4 1033.9 L443.5 1033.4 L442.7 1032.9 L441.9 1032.4 L441.1 1032.0 L440.4 1031.5 L439.8 1031.1 L439.1 1030.8 L438.5 1030.4 L437.9 1030.0 L437.3 1029.7 L436.8 1029.4 L436.2 1029.0 L435.7 1028.7 L435.2 1028.3 L434.6 1028.0 L434.1 1027.6 L433.5 1027.2 L432.9 1026.8 L432.3 1026.4 L431.6 1025.9 L431.0 1025.5 L430.3 1025.0 L429.5 1024.4 L428.7 1023.8 L427.9 1023.2 L427.0 1022.5 L426.1 1021.9 L425.1 1021.2 L424.2 1020.4 L423.2 1019.7 L422.2 1018.9 L421.2 1018.2 L420.2 1017.4 L419.2 1016.6 L418.2 1015.8 L417.2 1015.0 L416.2 1014.2 L415.3 1013.4 L414.3 1012.6 L413.4 1011.8 L412.5 1011.0 L411.7 1010.3 L410.9 1009.5 L410.1 1008.8 L409.4 1008.0 L408.7 1007.3 L407.9 1006.6 L407.2 1005.8 L406.6 1005.1 L405.9 1004.4 L405.2 1003.6 L404.6 1002.9 L404.0 1002.2 L403.4 1001.4 L402.8 1000.7 L402.2 1000.0 L401.6 999.2 L401.1 998.5 L400.6 997.7 L400.1 997.0 L399.6 996.2 L399.1 995.5 L398.6 994.7 L398.1 993.9 L397.7 993.2 L397.3 992.4 L396.9 991.6 L396.5 990.8 L396.2 990.0 L395.8 989.3 L395.5 988.5 L395.2 987.7 L394.9 986.9 L394.6 986.1 L394.3 985.3 L394.0 984.5 L393.8 983.7 L393.5 982.8 L393.3 982.0 L393.0 981.2 L392.8 980.3 L392.6 979.5 L392.4 978.6 L392.2 977.7 L392.0 976.8 L391.9 975.9 L391.7 974.9 L391.6 974.0 L391.5 973.0 L391.4 972.0 L391.3 971.1 L391.2 970.1 L391.1 969.1 L391.0 968.1 L391.0 967.1 L390.9 966.2 L390.8 965.2 L390.8 964.3 L390.7 963.4 L390.7 962.5 L390.6 961.6 L390.6 960.8 L390.5 960.0 L390.4 959.2 L390.4 958.5 L390.3 957.8 L390.3 957.1 L390.2 956.4 L390.2 955.8 L390.2 955.2 L390.1 954.6 L390.1 954.0 L390.1 953.4 L390.1 952.8 L390.0 952.2 L390.0 951.6 L390.0 951.0 L390.0 950.4 L390.0 949.8 L389.9 949.2 L389.9 948.6 L389.9 948.0 L389.9 947.3 L389.9 946.6 L389.9 945.9 L389.8 945.2 L389.8 944.5 L389.8 943.8 L389.8 943.1 L389.8 942.4 L389.7 941.7 L389.7 940.9 L389.7 940.2 L389.7 939.5 L389.7 938.8 L389.7 938.1 L389.7 937.3 L389.7 936.6 L389.7 935.9 L389.8 935.2 L389.8 934.5 L389.8 933.9 L389.9 933.2 L390.0 932.5 L390.1 931.9 L390.1 931.2 L390.2 930.6 L390.4 930.0 L390.5 929.3 L390.6 928.7 L390.7 928.1 L390.9 927.4 L391.0 926.8 L391.1 926.2 L391.3 925.6 L391.4 925.0 L391.6 924.4 L391.7 923.8 L391.9 923.2 L392.0 922.7 L392.2 922.1 L392.4 921.6 L392.5 921.0 L392.7 920.4 L392.8 919.9 L393.0 919.3 L393.2 918.7 L393.4 918.2 L393.5 917.6 L393.7 917.0 L393.9 916.5 L394.1 915.9 L394.3 915.4 L394.5 914.9 L394.7 914.4 L394.9 913.9 L395.0 913.4 L395.2 913.0 L395.3 912.6 L395.5 912.2 L395.6 911.9 L395.7 911.6 L395.8 911.3Z" fill="#fff" stroke="none"/>
<path d="M402.3 932.6 L402.2 933.1 L402.0 933.6 L401.9 934.1 L401.8 934.6 L401.7 935.0 L401.6 935.5 L401.5 935.9 L401.4 936.4 L401.3 936.8 L401.2 937.2 L401.2 937.6 L401.1 938.0 L389.7 937.2 L389.7 936.7 L389.7 936.2 L389.7 935.6 L389.8 934.9 L389.8 934.3 L389.9 933.7 L389.9 933.0 L390.0 932.3 L390.1 931.7 L390.2 931.1 L390.3 930.5 L390.4 929.9Z" fill="#111" fill-opacity="0.85" stroke="none"/>
<path d="M398.6 912.7Q397.1 911.6 395.4 912.5M400.8 914.5Q397.6 912.8 394.5 914.8M402.5 916.3Q397.7 914.2 393.6 917.5M403.9 923.8Q398.7 919.3 392.3 921.7M403.6 927.0Q398.2 922.3 391.5 924.7M402.6 931.3Q397.5 926.3 390.6 928.5M400.8 941.1Q395.3 937.7 389.7 940.9M400.8 944.1Q395.2 940.9 389.8 944.3M400.8 947.6Q395.3 944.4 389.9 947.8M400.9 951.0Q395.3 947.9 390.0 951.4M401.1 954.1Q395.4 951.2 390.2 954.8M401.5 958.3Q395.7 955.5 390.4 959.3M401.9 961.4Q396.0 958.5 390.7 962.4M402.2 964.9Q396.3 962.0 390.9 965.9M402.7 968.7Q396.6 965.9 391.2 969.9M403.3 972.6Q396.9 970.1 391.7 974.5M403.9 975.6Q397.3 973.5 392.3 978.3M405.0 979.2Q398.2 977.7 393.6 983.0M406.6 983.3Q399.5 982.2 395.3 988.0M408.1 986.4Q400.9 985.8 397.1 991.9M410.2 990.5Q403.2 990.5 399.9 996.8M412.0 993.3Q405.1 993.9 402.4 1000.2M414.3 996.6Q407.7 997.7 405.5 1004.0M416.6 999.3Q410.2 1000.8 408.6 1007.2M419.2 1001.7Q412.9 1003.7 411.6 1010.2M421.4 1003.5Q415.1 1005.7 414.1 1012.4M421.4 1003.5Q415.1 1005.7 414.1 1012.4M431.9 1011.4Q425.5 1014.0 424.8 1020.9M448.9 1023.3Q443.0 1026.3 442.9 1033.0M466.8 1034.4Q461.5 1037.5 461.7 1043.5M484.3 1043.8Q479.4 1046.9 479.9 1052.7M501.0 1051.1Q496.2 1054.7 497.1 1060.7M546.8 1069.0Q541.3 1072.9 542.3 1079.6M555.1 1072.5Q549.7 1076.5 550.7 1083.1M562.0 1075.5Q556.7 1079.4 557.7 1085.9M579.1 1082.7Q574.1 1086.5 575.0 1092.8M620.1 1099.5Q614.9 1103.3 615.8 1109.8M641.6 1107.8Q636.2 1112.1 637.4 1118.8M652.0 1111.5Q646.7 1116.0 648.2 1122.9M663.2 1115.2Q657.8 1119.7 659.4 1126.6M673.8 1118.7Q668.6 1123.3 670.3 1130.1M684.7 1121.8Q679.7 1126.6 681.5 1133.2M689.6 1123.1Q684.6 1127.9 686.5 1134.6M694.6 1124.5Q689.7 1129.3 691.6 1136.0M700.9 1125.9Q696.1 1131.0 698.3 1137.6M706.0 1126.9Q701.3 1132.2 703.8 1138.8" fill="none" stroke="#111" stroke-width="1.3" />
<path d="M396.5 911.0 C397.6 912.1 402.1 915.0 403.3 917.6 C404.5 920.2 404.0 923.5 403.6 926.8 C403.2 930.1 401.7 934.0 401.2 937.4 C400.7 940.8 400.7 943.2 400.8 947.0 C400.9 950.8 401.0 954.7 401.7 960.0 C402.4 965.3 402.6 972.4 404.8 978.6 C407.0 984.8 410.6 992.0 414.7 997.1 C418.8 1002.2 424.1 1005.4 429.5 1009.5 C434.9 1013.6 440.6 1017.8 446.8 1021.9 C453.0 1026.0 460.2 1030.6 466.6 1034.3 C473.0 1038.0 479.0 1041.2 485.2 1044.2 C491.4 1047.2 498.0 1049.9 503.8 1052.2 C509.6 1054.5 513.1 1055.1 520.0 1057.8 C526.9 1060.5 533.2 1063.2 545.0 1068.2 C556.8 1073.2 575.7 1081.4 591.0 1087.7 C606.3 1094.0 625.5 1101.7 637.0 1106.1 C648.5 1110.5 652.8 1111.7 660.0 1114.1 C667.2 1116.5 672.5 1118.4 680.0 1120.5 C687.5 1122.6 696.5 1125.2 704.8 1126.7 C713.0 1128.2 721.2 1128.9 729.5 1129.6 C737.8 1130.3 746.0 1130.7 754.3 1130.9 C762.5 1131.1 770.8 1131.0 779.0 1130.9 C787.2 1130.8 795.5 1130.7 803.8 1130.4 C812.1 1130.1 824.5 1129.3 828.6 1129.1" fill="none" stroke="#111" stroke-width="1.65" stroke-linecap="round"/>
<path d="M395.8 911.3 C395.2 912.9 393.5 917.4 392.5 921.0 C391.5 924.6 390.3 928.8 389.9 933.2 C389.5 937.6 389.8 942.8 389.9 947.3 C390.0 951.8 390.1 954.8 390.5 960.0 C390.9 965.2 391.0 972.8 392.4 978.6 C393.8 984.4 395.5 989.6 398.6 994.7 C401.7 999.9 405.8 1004.5 410.9 1009.5 C416.0 1014.5 424.3 1020.6 429.5 1024.4 C434.7 1028.2 436.7 1029.3 441.9 1032.4 C447.1 1035.5 454.3 1039.6 460.5 1042.9 C466.7 1046.2 472.8 1049.2 479.0 1052.2 C485.2 1055.2 490.8 1058.0 497.6 1060.9 C504.4 1063.8 512.1 1066.2 520.0 1069.5 C527.9 1072.8 533.2 1075.8 545.0 1080.8 C556.8 1085.8 575.7 1092.9 591.0 1099.2 C606.3 1105.5 625.5 1114.1 637.0 1118.7 C648.5 1123.3 652.8 1124.5 660.0 1126.8 C667.2 1129.1 672.5 1130.8 680.0 1132.8 C687.5 1134.8 696.5 1137.5 704.8 1139.0 C713.0 1140.5 721.2 1141.4 729.5 1142.0 C737.8 1142.6 746.0 1142.6 754.3 1142.7 C762.5 1142.8 770.8 1142.8 779.0 1142.7 C787.2 1142.6 795.3 1142.4 803.8 1142.0 C812.3 1141.6 825.5 1140.6 829.8 1140.3" fill="none" stroke="#111" stroke-width="1.65" stroke-linecap="round"/>
<path d="M715.9 1128.3L714.0 1138.6M727.0 1129.4L725.4 1139.8M738.2 1130.2L736.8 1140.6M749.3 1130.7L748.3 1140.8M760.5 1131.0L759.7 1141.0M772.8 1131.0L772.4 1141.0M784.0 1130.8L783.8 1140.9M795.1 1130.7L795.3 1140.6M807.8 1130.2L808.2 1140.0M819.1 1129.6L819.9 1139.3" fill="none" stroke="#111" stroke-width="1.2" />
<path d="M817.4 1117.5 C817.4 1114.5 818.5 1112.8 821.1 1111.8 L902.8 1080.9 C906.5 1079 909.5 1078.2 912.7 1078.4 C915.8 1078.7 918.5 1080.3 921.4 1082.1 L942.4 1094.5 C946 1096.5 947.4 1098 947.4 1100.7 L947.4 1111.8 C947.3 1114.8 945.5 1116.5 942.4 1118 L858.3 1148.9 C855.5 1150 853.5 1150.4 850.8 1150.2 C848 1150 845.8 1149 843.4 1147.7 L824 1135.5 C819.5 1132.8 817.4 1131.5 817.4 1128Z" fill="#fff" stroke="#111" stroke-width="1.8" />
<path d="M831.5 1111.1 L857 1122.9 L932.5 1094" fill="none" stroke="#111" stroke-width="1.9" />
<path d="M831.5 1111.1 L886 1090.6 M832 1112.3 L878 1094.5" fill="none" stroke="#111" stroke-width="0.8" />
<path d="M927 1090.9 L932.5 1094" fill="none" stroke="#111" stroke-width="1.0" />
<path d="M814 1129.8 L828.6 1129.1 L829.8 1140.3 L814 1141.5Z" fill="#fff"/>
<path d="M810 1130.1 L828.6 1129.1 L829.8 1140.3 L810 1141.7" fill="none" stroke="#111" stroke-width="1.5" />
<path d="M818.6 1129.6 L819 1138 M828.6 1129.1 L829.8 1140.3" fill="none" stroke="#111" stroke-width="1.0" />
<path d="M688.0 916.6 L688.9 917.0 L689.9 917.4 L691.1 917.9 L692.4 918.5 L693.8 919.1 L695.3 919.7 L696.9 920.4 L698.6 921.1 L700.3 921.8 L702.1 922.6 L704.0 923.4 L705.9 924.2 L707.8 925.0 L709.7 925.8 L711.6 926.7 L713.5 927.5 L715.3 928.3 L717.2 929.2 L719.0 930.0 L720.7 930.8 L722.4 931.6 L724.1 932.4 L725.8 933.2 L727.5 934.1 L729.2 934.9 L730.9 935.8 L732.6 936.7 L734.3 937.5 L736.0 938.4 L737.7 939.3 L739.4 940.2 L741.2 941.1 L743.0 942.0 L744.8 942.9 L746.6 943.9 L748.4 944.8 L750.3 945.7 L752.2 946.6 L754.1 947.6 L756.1 948.5 L758.1 949.4 L760.1 950.4 L762.2 951.3 L764.3 952.3 L766.4 953.2 L768.5 954.2 L770.7 955.1 L772.9 956.1 L775.1 957.1 L777.3 958.0 L779.5 959.0 L781.8 960.0 L784.0 961.0 L786.3 962.0 L788.6 963.0 L790.8 964.0 L793.1 965.1 L795.4 966.1 L797.7 967.1 L800.0 968.2 L802.3 969.3 L804.7 970.4 L807.1 971.5 L809.5 972.7 L812.0 973.8 L814.5 975.0 L817.0 976.2 L819.6 977.4 L822.1 978.6 L824.6 979.8 L827.1 981.0 L829.6 982.2 L832.0 983.3 L834.4 984.5 L836.8 985.6 L839.1 986.7 L841.4 987.8 L843.6 988.9 L845.7 989.9 L847.7 990.9 L849.7 991.9 L851.6 992.8 L853.5 993.7 L855.3 994.7 L857.1 995.5 L858.8 996.4 L860.5 997.3 L862.1 998.1 L863.8 999.0 L865.4 999.8 L866.9 1000.6 L868.4 1001.4 L869.9 1002.1 L871.4 1002.9 L872.8 1003.6 L874.2 1004.3 L875.6 1005.0 L876.9 1005.7 L878.3 1006.4 L879.6 1007.0 L880.9 1007.6 L882.1 1008.2 L883.2 1008.7 L884.3 1009.2 L885.4 1009.7 L886.4 1010.1 L887.4 1010.6 L888.4 1011.0 L889.3 1011.4 L890.2 1011.8 L891.1 1012.2 L892.1 1012.5 L893.0 1012.9 L893.9 1013.4 L894.8 1013.8 L895.8 1014.2 L896.8 1014.7 L897.8 1015.2 L898.9 1015.7 L900.0 1016.3 L901.2 1016.9 L902.4 1017.6 L903.6 1018.2 L904.9 1018.9 L906.2 1019.7 L907.6 1020.4 L908.9 1021.2 L910.3 1022.0 L911.6 1022.7 L913.0 1023.5 L914.3 1024.3 L915.7 1025.1 L917.0 1025.8 L918.3 1026.6 L919.5 1027.3 L920.7 1028.1 L921.9 1028.7 L923.0 1029.4 L924.0 1030.0 L925.0 1030.6 L925.9 1031.1 L926.8 1031.7 L927.6 1032.1 L928.3 1032.6 L929.1 1033.0 L929.7 1033.5 L930.4 1033.8 L931.0 1034.2 L931.6 1034.6 L932.2 1035.0 L932.7 1035.3 L933.3 1035.7 L933.8 1036.0 L934.3 1036.4 L934.8 1036.8 L935.4 1037.1 L935.9 1037.5 L936.4 1037.9 L936.9 1038.4 L937.5 1038.8 L938.1 1039.3 L938.6 1039.7 L939.2 1040.2 L939.7 1040.7 L940.3 1041.2 L940.8 1041.6 L941.4 1042.1 L941.9 1042.6 L942.4 1043.1 L942.9 1043.6 L943.4 1044.2 L943.9 1044.7 L944.4 1045.2 L944.9 1045.7 L945.4 1046.2 L945.8 1046.7 L946.3 1047.3 L946.7 1047.8 L947.1 1048.3 L947.5 1048.8 L947.9 1049.3 L948.3 1049.8 L948.6 1050.4 L949.0 1050.9 L949.3 1051.4 L949.6 1052.0 L949.9 1052.5 L950.2 1053.1 L950.5 1053.6 L950.8 1054.1 L951.1 1054.7 L951.3 1055.2 L951.6 1055.8 L951.8 1056.3 L952.1 1056.8 L952.3 1057.3 L952.5 1057.9 L952.7 1058.4 L952.9 1058.9 L953.1 1059.4 L953.3 1059.9 L953.5 1060.4 L953.6 1060.9 L953.8 1061.4 L953.9 1061.8 L954.1 1062.3 L954.2 1062.8 L954.3 1063.3 L954.4 1063.7 L954.5 1064.2 L954.6 1064.6 L954.7 1065.1 L954.8 1065.6 L954.8 1066.0 L954.9 1066.5 L954.9 1066.9 L955.0 1067.4 L955.0 1067.9 L955.0 1068.3 L955.0 1068.8 L955.0 1069.3 L955.0 1069.7 L954.9 1070.2 L954.9 1070.7 L954.8 1071.1 L954.8 1071.6 L954.7 1072.1 L954.6 1072.5 L954.5 1073.0 L954.4 1073.4 L954.3 1073.9 L954.2 1074.4 L954.1 1074.8 L954.0 1075.3 L953.8 1075.8 L953.7 1076.2 L953.6 1076.7 L953.4 1077.2 L953.3 1077.6 L953.1 1078.1 L952.9 1078.6 L952.8 1079.1 L952.6 1079.5 L952.4 1080.0 L952.2 1080.5 L952.0 1081.1 L951.8 1081.6 L951.5 1082.1 L951.3 1082.6 L951.1 1083.1 L950.8 1083.6 L950.6 1084.1 L950.4 1084.5 L950.1 1085.0 L949.9 1085.5 L949.7 1085.9 L949.4 1086.3 L949.2 1086.7 L949.0 1087.1 L948.8 1087.5 L948.6 1087.9 L948.4 1088.2 L948.2 1088.5 L947.9 1088.9 L947.7 1089.2 L947.5 1089.5 L947.3 1089.8 L947.1 1090.1 L946.8 1090.3 L946.6 1090.6 L946.4 1090.8 L946.2 1091.1 L946.0 1091.3 L945.8 1091.5 L945.7 1091.7 L945.5 1091.9 L945.4 1092.1 L945.2 1092.2 L945.1 1092.4 L945.0 1092.5 L933.8 1087.5 L934.0 1087.3 L934.2 1087.1 L934.4 1086.8 L934.7 1086.5 L935.0 1086.2 L935.3 1085.8 L935.6 1085.5 L936.0 1085.1 L936.3 1084.7 L936.7 1084.3 L937.1 1083.8 L937.4 1083.4 L937.8 1083.0 L938.2 1082.5 L938.5 1082.1 L938.9 1081.7 L939.2 1081.2 L939.5 1080.8 L939.8 1080.4 L940.0 1080.0 L940.2 1079.6 L940.4 1079.2 L940.7 1078.8 L940.9 1078.4 L941.1 1078.0 L941.3 1077.6 L941.4 1077.1 L941.6 1076.7 L941.8 1076.3 L941.9 1075.9 L942.1 1075.5 L942.2 1075.0 L942.4 1074.6 L942.5 1074.2 L942.6 1073.8 L942.7 1073.4 L942.8 1073.0 L942.9 1072.6 L943.0 1072.3 L943.1 1071.9 L943.2 1071.5 L943.2 1071.2 L943.3 1070.9 L943.4 1070.6 L943.4 1070.2 L943.5 1069.9 L943.5 1069.6 L943.5 1069.3 L943.6 1069.0 L943.6 1068.8 L943.6 1068.5 L943.6 1068.2 L943.5 1067.9 L943.5 1067.6 L943.5 1067.3 L943.4 1066.9 L943.4 1066.6 L943.3 1066.3 L943.2 1066.0 L943.1 1065.6 L943.0 1065.2 L942.9 1064.9 L942.7 1064.5 L942.6 1064.1 L942.4 1063.7 L942.2 1063.2 L942.0 1062.8 L941.8 1062.4 L941.6 1062.0 L941.4 1061.5 L941.2 1061.1 L941.0 1060.7 L940.7 1060.3 L940.5 1059.8 L940.2 1059.4 L939.9 1059.0 L939.7 1058.6 L939.4 1058.2 L939.1 1057.9 L938.8 1057.5 L938.5 1057.2 L938.2 1056.8 L937.9 1056.5 L937.6 1056.2 L937.3 1055.9 L936.9 1055.6 L936.6 1055.3 L936.3 1055.0 L935.9 1054.7 L935.6 1054.4 L935.2 1054.2 L934.8 1053.9 L934.4 1053.6 L934.0 1053.3 L933.6 1053.0 L933.2 1052.7 L932.7 1052.4 L932.3 1052.0 L931.8 1051.7 L931.3 1051.3 L930.8 1050.9 L930.3 1050.5 L929.8 1050.2 L929.2 1049.8 L928.7 1049.4 L928.1 1049.0 L927.5 1048.6 L927.0 1048.1 L926.4 1047.7 L925.8 1047.3 L925.1 1046.9 L924.5 1046.4 L923.8 1046.0 L923.2 1045.5 L922.5 1045.0 L921.8 1044.5 L921.1 1044.0 L920.3 1043.5 L919.6 1043.0 L918.8 1042.5 L918.0 1042.0 L917.2 1041.4 L916.3 1040.8 L915.5 1040.2 L914.6 1039.6 L913.7 1039.0 L912.7 1038.3 L911.8 1037.7 L910.9 1037.0 L909.9 1036.4 L908.9 1035.7 L907.9 1035.1 L906.9 1034.4 L906.0 1033.7 L905.0 1033.1 L904.0 1032.5 L903.0 1031.8 L902.0 1031.2 L901.0 1030.6 L900.0 1030.0 L899.0 1029.4 L898.1 1028.9 L897.1 1028.3 L896.2 1027.8 L895.3 1027.3 L894.4 1026.8 L893.4 1026.3 L892.5 1025.8 L891.6 1025.3 L890.6 1024.8 L889.7 1024.3 L888.7 1023.8 L887.7 1023.3 L886.6 1022.8 L885.5 1022.2 L884.4 1021.7 L883.3 1021.1 L882.1 1020.5 L880.9 1019.9 L879.6 1019.2 L878.3 1018.5 L876.9 1017.8 L875.6 1017.1 L874.2 1016.4 L872.8 1015.7 L871.4 1014.9 L869.9 1014.2 L868.4 1013.4 L866.9 1012.6 L865.4 1011.8 L863.8 1011.0 L862.1 1010.2 L860.5 1009.3 L858.8 1008.5 L857.1 1007.6 L855.3 1006.7 L853.5 1005.8 L851.6 1004.8 L849.7 1003.9 L847.7 1002.9 L845.6 1001.9 L843.5 1000.8 L841.2 999.7 L838.8 998.6 L836.4 997.4 L833.9 996.1 L831.3 994.9 L828.7 993.7 L826.1 992.4 L823.5 991.1 L820.9 989.9 L818.3 988.6 L815.7 987.4 L813.2 986.2 L810.8 985.0 L808.4 983.9 L806.1 982.8 L804.0 981.7 L801.9 980.7 L800.0 979.8 L798.2 978.9 L796.6 978.1 L795.0 977.4 L793.6 976.7 L792.2 976.0 L791.0 975.4 L789.7 974.8 L788.6 974.2 L787.5 973.7 L786.3 973.1 L785.3 972.6 L784.2 972.0 L783.1 971.5 L781.9 970.9 L780.7 970.4 L779.5 969.8 L778.2 969.1 L776.8 968.5 L775.4 967.8 L773.8 967.0 L772.1 966.2 L770.4 965.4 L768.6 964.5 L766.7 963.6 L764.8 962.7 L762.8 961.7 L760.8 960.8 L758.8 959.8 L756.8 958.8 L754.7 957.8 L752.6 956.8 L750.6 955.9 L748.5 954.9 L746.5 953.9 L744.4 953.0 L742.4 952.0 L740.5 951.1 L738.6 950.2 L736.7 949.3 L734.9 948.5 L733.1 947.7 L731.4 946.9 L729.6 946.1 L727.9 945.3 L726.2 944.5 L724.5 943.7 L722.9 943.0 L721.2 942.2 L719.6 941.5 L718.0 940.7 L716.4 940.0 L714.8 939.3 L713.2 938.6 L711.7 938.0 L710.2 937.3 L708.7 936.7 L707.2 936.0 L705.8 935.4 L704.4 934.9 L703.0 934.3 L701.6 933.8 L700.3 933.2 L698.9 932.8 L697.6 932.3 L696.3 931.8 L695.0 931.4 L693.7 931.0 L692.4 930.6 L691.2 930.2 L690.0 929.9 L688.8 929.5 L687.7 929.1 L686.6 928.8 L685.5 928.4 L684.5 928.1 L683.5 927.8 L682.6 927.4 L681.7 927.1 L680.9 926.7 L680.1 926.4 L679.4 926.0 L678.7 925.7 L678.1 925.3 L677.6 925.0 L677.0 924.6 L676.6 924.2 L676.2 923.9 L675.8 923.5 L675.4 923.1 L675.1 922.8 L674.8 922.5 L674.6 922.2 L674.3 921.8 L674.1 921.6 L673.9 921.3 L673.7 921.0 L673.5 920.8 L673.4 920.6 L673.2 920.4 L673.0 920.2Z" fill="#fff" stroke="none"/>
<path d="M941.4 1042.2 L944.9 1045.7 L947.7 1049.1 L950.3 1053.1 L952.2 1057.2 L953.9 1061.6 L954.8 1066.2 L954.9 1070.9 L953.8 1075.9 L952.3 1080.3 L950.4 1084.4 L948.3 1088.3 L945.1 1092.3 L936.3 1084.7 L938.9 1081.7 L940.4 1079.2 L941.8 1076.2 L942.9 1072.9 L943.5 1069.6 L943.5 1067.6 L942.9 1065.1 L941.7 1062.1 L940.1 1059.2 L938.2 1056.9 L936.2 1055.0 L932.9 1052.5Z" fill="#111" fill-opacity="0.5" stroke="none"/>
<path d="M692.3 918.4Q685.9 922.3 688.3 929.3M697.3 920.5Q691.2 924.2 693.4 930.9M706.0 924.3Q700.2 927.5 702.0 933.9M722.5 931.7Q716.7 934.5 718.2 940.9M736.2 938.5Q730.6 941.1 731.9 947.1M847.7 990.9Q841.5 993.8 843.0 1000.6M879.5 1006.9Q873.2 1009.8 874.6 1016.6M906.0 1019.6Q898.8 1022.4 900.0 1030.0M919.1 1027.1Q911.3 1029.8 912.2 1038.0M927.2 1031.9Q919.1 1034.7 920.0 1043.3M932.5 1035.2Q924.1 1037.8 924.8 1046.7M936.6 1038.1Q928.1 1040.3 928.3 1049.1M940.2 1041.0Q931.7 1042.9 931.6 1051.5M942.6 1043.3Q934.3 1044.9 934.0 1053.3M944.6 1045.4Q936.5 1046.6 935.9 1054.7M946.4 1047.4Q938.4 1048.0 937.3 1055.9M948.1 1049.6Q940.3 1049.5 938.5 1057.2M949.6 1051.9Q941.9 1051.2 939.6 1058.5M950.9 1054.4Q943.5 1053.1 940.6 1060.1M952.1 1056.9Q944.9 1055.2 941.6 1061.8M953.1 1059.5Q946.1 1057.3 942.4 1063.7M954.0 1062.1Q947.2 1059.4 943.0 1065.4M954.7 1064.9Q948.2 1061.4 943.4 1066.9M955.0 1067.6Q949.0 1063.3 943.6 1068.2M954.9 1070.5Q949.6 1065.4 943.5 1069.4M954.4 1073.6Q949.8 1067.9 943.2 1071.2M953.6 1076.4Q949.5 1070.5 942.8 1073.3M952.7 1079.1Q949.0 1072.9 942.1 1075.3M951.7 1081.7Q948.4 1075.3 941.4 1077.2M950.6 1084.1Q947.6 1077.6 940.5 1079.0M949.5 1086.3Q946.9 1079.5 939.7 1080.5" fill="none" stroke="#111" stroke-width="1.25" />
<path d="M688.0 916.6 C693.5 919.0 709.4 925.5 720.7 930.8 C732.1 936.1 742.9 942.3 756.1 948.5 C769.3 954.7 784.7 961.1 800.0 968.2 C815.3 975.3 834.4 984.4 847.7 990.9 C861.0 997.4 870.9 1002.8 879.6 1007.0 C888.3 1011.2 892.4 1012.4 900.0 1016.3 C907.6 1020.2 918.8 1026.8 925.0 1030.6 C931.2 1034.3 933.8 1035.8 937.5 1038.8 C941.2 1041.8 944.9 1045.4 947.5 1048.8 C950.1 1052.2 951.9 1056.1 953.1 1059.4 C954.4 1062.7 955.0 1065.7 955.0 1068.8 C955.0 1071.9 954.1 1075.0 953.1 1078.1 C952.1 1081.2 950.1 1085.1 948.8 1087.5 C947.4 1089.9 945.6 1091.7 945.0 1092.5" fill="none" stroke="#111" stroke-width="1.85" stroke-linecap="round"/>
<path d="M673.0 920.2 C674.2 921.2 675.1 924.0 680.1 926.4 C685.1 928.8 693.9 930.6 703.0 934.3 C712.1 938.0 723.1 943.0 734.9 948.5 C746.7 954.0 762.9 961.8 773.8 967.0 C784.6 972.2 787.7 973.8 800.0 979.8 C812.3 985.8 834.4 996.3 847.7 1002.9 C861.0 1009.5 870.9 1014.7 879.6 1019.2 C888.3 1023.7 893.5 1026.1 900.0 1030.0 C906.5 1033.9 913.6 1039.0 918.8 1042.5 C924.0 1046.0 928.0 1048.8 931.3 1051.3 C934.6 1053.8 936.8 1055.1 938.8 1057.5 C940.8 1059.9 942.4 1063.2 943.1 1065.6 C943.8 1068.0 943.6 1069.5 943.1 1071.9 C942.6 1074.3 941.5 1077.4 940.0 1080.0 C938.5 1082.6 934.8 1086.2 933.8 1087.5" fill="none" stroke="#111" stroke-width="1.85" stroke-linecap="round"/>
<path d="M817.4 1117.5 C817.4 1114.5 818.5 1112.8 821.1 1111.8 L902.8 1080.9 C906.5 1079 909.5 1078.2 912.7 1078.4 C915.8 1078.7 918.5 1080.3 921.4 1082.1 L942.4 1094.5 C946 1096.5 947.4 1098 947.4 1100.7 L947.4 1111.8 C947.3 1114.8 945.5 1116.5 942.4 1118 L858.3 1148.9 C855.5 1150 853.5 1150.4 850.8 1150.2 C848 1150 845.8 1149 843.4 1147.7 L824 1135.5 C819.5 1132.8 817.4 1131.5 817.4 1128Z" fill="#fff" stroke="#111" stroke-width="1.8" />
<path d="M831.5 1111.1 L857 1122.9 L932.5 1094" fill="none" stroke="#111" stroke-width="1.9" />
<path d="M831.5 1111.1 L886 1090.6 M832 1112.3 L878 1094.5" fill="none" stroke="#111" stroke-width="0.8" />
<path d="M927 1090.9 L932.5 1094" fill="none" stroke="#111" stroke-width="1.0" />
<path d="M815 1129.8 L828.6 1129.1 L829.8 1140.3 L815 1141.5Z" fill="#fff"/>
<path d="M810 1130.1 L828.6 1129.1 L829.8 1140.3 L810 1141.7" fill="none" stroke="#111" stroke-width="1.5" />
<path d="M818.6 1129.6 L819 1138 M828.6 1129.1 L829.8 1140.3" fill="none" stroke="#111" stroke-width="1.0" />
<path d="M817.1 850 L816.6 863.8 M838.9 852.7 L839.4 871.2 L830.9 870.2" fill="none" stroke="#111" stroke-width="0.9" />
<path d="M673 921 C669.5 916 670 910 676 906.3 C680 904 685 902.8 690 901.8 L690.5 914.5 C685 915.2 681 918 678.5 923.5Z" fill="#111" stroke="#111" stroke-width="1.6"/>
<path d="M672.5 909.5 L672.6 909.4 L672.7 909.3 L672.8 909.2 L672.9 909.0 L673.0 908.9 L673.1 908.7 L673.3 908.6 L673.4 908.4 L673.6 908.2 L673.7 908.0 L673.9 907.8 L674.1 907.6 L674.3 907.4 L674.6 907.2 L674.8 907.0 L675.1 906.8 L675.4 906.6 L675.7 906.4 L676.1 906.2 L676.5 906.0 L676.9 905.8 L677.3 905.6 L677.7 905.4 L678.1 905.2 L678.6 904.9 L679.0 904.7 L679.4 904.5 L679.9 904.3 L680.4 904.0 L681.0 903.8 L681.5 903.6 L682.1 903.3 L682.8 903.1 L683.5 902.9 L684.2 902.7 L685.0 902.4 L685.9 902.2 L686.8 902.0 L687.8 901.8 L688.9 901.6 L690.0 901.4 L691.3 901.2 L692.6 901.0 L694.0 900.9 L695.4 900.7 L696.9 900.5 L698.5 900.3 L700.1 900.2 L701.7 900.0 L703.4 899.9 L705.1 899.7 L706.8 899.5 L708.5 899.4 L710.3 899.2 L712.0 899.0 L713.8 898.8 L715.5 898.7 L717.3 898.5 L719.0 898.3 L720.7 898.1 L722.4 897.9 L724.1 897.7 L725.9 897.5 L727.7 897.3 L729.5 897.1 L731.3 896.9 L733.2 896.7 L735.0 896.5 L736.9 896.3 L738.7 896.1 L740.6 895.9 L742.4 895.7 L744.2 895.5 L746.0 895.2 L747.8 895.0 L749.5 894.8 L751.2 894.5 L752.9 894.3 L754.5 894.0 L756.1 893.7 L757.6 893.4 L759.1 893.1 L760.6 892.8 L762.1 892.5 L763.5 892.2 L764.9 891.9 L766.2 891.6 L767.6 891.3 L768.9 891.0 L770.2 890.7 L771.5 890.3 L772.8 890.0 L774.1 889.6 L775.3 889.2 L776.6 888.8 L777.8 888.4 L779.0 888.0 L780.2 887.5 L781.4 887.1 L782.6 886.6 L783.8 886.1 L785.0 885.6 L786.1 885.0 L787.3 884.4 L788.4 883.9 L789.6 883.2 L790.7 882.6 L791.8 882.0 L792.9 881.3 L794.0 880.7 L795.0 880.0 L796.1 879.3 L797.1 878.7 L798.1 878.0 L799.1 877.4 L800.1 876.7 L801.0 876.1 L802.0 875.4 L802.9 874.8 L803.8 874.2 L804.7 873.6 L805.5 873.0 L806.4 872.4 L807.2 871.8 L808.0 871.2 L808.8 870.6 L809.6 869.9 L810.3 869.3 L811.0 868.7 L811.8 868.1 L812.5 867.5 L813.1 867.0 L813.8 866.4 L814.5 865.8 L815.1 865.3 L815.7 864.7 L816.3 864.2 L816.9 863.7 L817.4 863.2 L818.0 862.7 L818.5 862.2 L819.1 861.8 L819.6 861.3 L820.0 860.8 L820.5 860.4 L821.0 859.9 L821.4 859.5 L821.8 859.1 L822.2 858.7 L822.6 858.3 L823.0 857.9 L823.4 857.5 L823.7 857.2 L824.0 856.8 L824.3 856.5 L824.6 856.2 L824.8 856.0 L825.1 855.7 L825.3 855.5 L825.5 855.3 L834.3 860.6 L834.2 860.8 L834.1 861.1 L834.0 861.4 L833.9 861.7 L833.8 862.1 L833.6 862.5 L833.5 862.9 L833.3 863.3 L833.2 863.7 L833.0 864.2 L832.8 864.7 L832.6 865.1 L832.4 865.6 L832.2 866.1 L831.9 866.6 L831.7 867.1 L831.4 867.5 L831.1 868.0 L830.8 868.5 L830.4 868.9 L830.0 869.3 L829.6 869.7 L829.2 870.2 L828.8 870.6 L828.3 871.0 L827.9 871.4 L827.4 871.8 L826.9 872.2 L826.4 872.6 L825.9 873.0 L825.3 873.5 L824.8 873.9 L824.2 874.3 L823.6 874.8 L823.0 875.2 L822.4 875.7 L821.7 876.2 L821.1 876.7 L820.5 877.2 L819.8 877.7 L819.1 878.2 L818.4 878.8 L817.7 879.4 L817.0 880.0 L816.3 880.6 L815.6 881.2 L814.8 881.9 L814.0 882.5 L813.3 883.2 L812.5 883.8 L811.7 884.5 L810.8 885.2 L810.0 885.8 L809.2 886.5 L808.3 887.1 L807.4 887.7 L806.5 888.4 L805.6 889.0 L804.7 889.5 L803.8 890.1 L802.9 890.7 L801.9 891.2 L801.0 891.7 L800.0 892.3 L799.0 892.8 L798.0 893.3 L797.0 893.8 L795.9 894.3 L794.9 894.8 L793.9 895.3 L792.8 895.8 L791.7 896.3 L790.6 896.8 L789.5 897.2 L788.4 897.7 L787.3 898.1 L786.1 898.6 L785.0 899.0 L783.8 899.4 L782.6 899.8 L781.4 900.2 L780.2 900.6 L779.0 900.9 L777.8 901.3 L776.6 901.6 L775.3 902.0 L774.1 902.3 L772.8 902.6 L771.5 902.9 L770.2 903.2 L768.9 903.5 L767.6 903.8 L766.2 904.1 L764.9 904.4 L763.5 904.7 L762.1 904.9 L760.6 905.2 L759.1 905.5 L757.6 905.7 L756.1 906.0 L754.5 906.3 L752.9 906.5 L751.2 906.8 L749.5 907.0 L747.7 907.2 L746.0 907.5 L744.2 907.7 L742.3 907.9 L740.5 908.1 L738.6 908.4 L736.8 908.6 L734.9 908.8 L733.0 909.0 L731.2 909.2 L729.4 909.4 L727.6 909.6 L725.8 909.8 L724.1 910.1 L722.4 910.3 L720.7 910.5 L719.0 910.7 L717.4 911.0 L715.7 911.2 L713.9 911.4 L712.2 911.7 L710.5 911.9 L708.8 912.1 L707.1 912.4 L705.4 912.6 L703.8 912.8 L702.2 913.1 L700.6 913.3 L699.1 913.5 L697.7 913.8 L696.3 914.0 L695.0 914.2 L693.8 914.4 L692.7 914.6 L691.6 914.7 L690.7 914.9 L689.9 915.1 L689.2 915.2 L688.6 915.4 L688.1 915.5 L687.6 915.6 L687.3 915.8 L687.0 915.9 L686.8 916.0 L686.6 916.1 L686.5 916.2 L686.4 916.3 L686.3 916.4 L686.3 916.5 L686.3 916.6 L686.3 916.7 L686.2 916.8 L686.2 916.8 L686.2 916.9 L686.1 916.9 L686.0 917.0Z" fill="#fff" stroke="none"/>
<path d="M673.3 908.5 L676.7 905.9 L677.2 905.6 L677.9 905.3 L678.5 905.0 L679.4 904.5 L680.3 904.1 L681.4 903.6 L682.5 903.2 L683.7 902.8 L685.1 902.4 L686.3 902.1 L687.8 901.8 L690.4 915.0 L689.3 915.2 L688.5 915.4 L687.6 915.6 L687.3 915.8 L687.0 915.9 L686.8 916.0 L686.6 916.1 L686.5 916.2 L686.5 916.2 L686.4 916.3 L686.4 916.4 L686.0 917.0Z" fill="#111" fill-opacity="1" stroke="none"/>
<path d="M687.8 901.8 L688.3 901.7 L688.8 901.6 L689.4 901.5 L689.9 901.4 L690.5 901.3 L691.0 901.3 L691.6 901.2 L692.1 901.1 L692.6 901.0 L693.1 901.0 L693.6 900.9 L694.2 900.8 L696.0 914.0 L695.5 914.1 L695.0 914.2 L694.6 914.2 L694.0 914.3 L693.6 914.4 L693.1 914.5 L692.7 914.6 L692.2 914.6 L691.6 914.7 L691.2 914.8 L690.7 914.9 L690.4 915.0Z" fill="#111" fill-opacity="0.5" stroke="none"/>
<path d="M778.9 888.0 L779.5 887.8 L780.1 887.6 L780.7 887.3 L781.3 887.1 L781.9 886.9 L782.5 886.6 L783.0 886.4 L783.7 886.1 L784.2 885.9 L784.8 885.6 L785.3 885.4 L785.9 885.1 L791.1 896.6 L790.4 896.9 L789.8 897.1 L789.1 897.4 L788.5 897.7 L787.7 897.9 L787.0 898.2 L786.4 898.5 L785.7 898.7 L785.1 898.9 L784.3 899.2 L783.6 899.5 L783.0 899.7Z" fill="#111" fill-opacity="0.85" stroke="none"/>
<path d="M776.5 888.8 L776.7 888.8 L776.9 888.7 L777.1 888.6 L777.3 888.6 L777.5 888.5 L777.7 888.4 L777.9 888.4 L778.1 888.3 L778.3 888.2 L778.5 888.2 L778.7 888.1 L778.9 888.0 L783.0 899.7 L782.8 899.7 L782.4 899.9 L782.2 899.9 L782.0 900.0 L781.8 900.1 L781.6 900.1 L781.3 900.2 L781.1 900.3 L780.9 900.4 L780.7 900.4 L780.5 900.5 L780.1 900.6Z" fill="#111" fill-opacity="0.4" stroke="none"/>
<path d="M785.9 885.1 L786.1 885.0 L786.2 885.0 L786.5 884.9 L786.7 884.8 L786.9 884.7 L787.0 884.6 L787.2 884.5 L787.4 884.4 L787.6 884.3 L787.8 884.2 L788.0 884.1 L788.2 884.0 L793.7 895.4 L793.5 895.5 L793.3 895.6 L793.1 895.7 L792.9 895.8 L792.6 895.9 L792.4 896.0 L792.2 896.1 L792.0 896.2 L791.8 896.3 L791.5 896.4 L791.3 896.5 L791.1 896.6Z" fill="#111" fill-opacity="0.4" stroke="none"/>
<path d="M691.5 901.2Q686.6 908.7 693.5 914.4M694.2 900.8Q689.3 908.2 696.0 914.0M697.2 900.5Q692.3 907.8 698.9 913.6M700.3 900.1Q695.4 907.3 701.9 913.1M703.7 899.8Q698.8 906.9 705.2 912.6M708.8 899.3Q704.0 906.3 710.3 911.9M724.2 897.7Q719.6 904.4 725.6 909.9M740.6 895.9Q736.0 902.6 742.0 908.0M757.6 893.4Q753.5 900.4 759.8 905.3M763.4 892.2Q759.4 899.3 765.9 904.2M766.2 891.6Q762.3 898.7 768.8 903.5M768.9 891.0Q765.1 898.2 771.8 902.9M771.5 890.3Q767.9 897.6 774.6 902.2M774.0 889.6Q770.5 897.0 777.4 901.4M776.5 888.8Q773.1 896.3 780.1 900.6M788.2 884.0Q785.9 892.1 793.7 895.4M790.7 882.6Q788.6 890.9 796.6 894.0M793.1 881.2Q791.3 889.7 799.5 892.5M795.6 879.7Q794.0 888.3 802.4 890.9M798.1 878.0Q796.8 886.8 805.3 889.1M800.8 876.2Q799.9 885.0 808.4 887.0M803.4 874.5Q802.6 883.1 811.1 885.0M805.6 872.9Q805.1 881.4 813.5 883.0M807.8 871.3Q807.5 879.7 815.7 881.1M809.9 869.7Q809.6 878.0 817.8 879.3M811.9 868.0Q811.6 876.4 819.8 877.7M813.8 866.3Q813.5 874.7 821.8 876.1M815.9 864.5Q815.6 873.0 824.0 874.4M818.2 862.5Q818.0 871.2 826.6 872.5M821.9 859.0Q823.8 867.1 832.1 866.3M824.3 856.6Q826.6 863.5 833.7 862.1" fill="none" stroke="#111" stroke-width="1.2" />
<path d="M672.5 909.5 C673.2 908.9 673.8 907.3 676.5 906.0 C679.2 904.7 681.5 902.9 688.9 901.6 C696.3 900.3 709.5 899.4 720.7 898.1 C731.9 896.8 745.8 895.6 756.1 893.7 C766.4 891.8 774.7 889.9 782.6 886.6 C790.5 883.4 797.9 878.2 803.8 874.2 C809.7 870.2 814.4 865.9 818.0 862.7 C821.6 859.6 824.2 856.5 825.5 855.3" fill="none" stroke="#111" stroke-width="1.8" stroke-linecap="round"/>
<path d="M686.0 917.0 C686.8 916.6 684.9 916.0 690.7 914.9 C696.5 913.8 709.8 912.0 720.7 910.5 C731.6 909.0 745.8 907.8 756.1 906.0 C766.4 904.2 774.7 902.4 782.6 899.8 C790.5 897.1 797.6 893.8 803.8 890.1 C810.0 886.4 815.4 881.2 819.8 877.7 C824.2 874.2 828.0 871.8 830.4 868.9 C832.8 866.0 833.6 862.0 834.3 860.6" fill="none" stroke="#111" stroke-width="1.8" stroke-linecap="round"/>
<path d="M672.5 920.0 C672.2 919.1 670.8 916.2 670.8 914.5 C670.8 912.8 671.5 910.9 672.5 909.5 C673.5 908.1 675.8 906.6 676.5 906.0" fill="none" stroke="#111" stroke-width="1.8" />
<ellipse cx="829.5" cy="858.3" rx="4.6" ry="3.6" transform="rotate(35 829.5 858.3)" fill="#fff" stroke="#111" stroke-width="1.1"/>
<ellipse cx="829.8" cy="858.1" rx="2.6" ry="1.9" transform="rotate(35 829.8 858.1)" fill="none" stroke="#111" stroke-width="0.8"/>
<path d="M816.6 807.1 L805.5 818.2 C803.6 820.3 803 822.3 803.3 824.6 C804 828 805.3 830.7 807.6 833.1 C810 835.3 813 837 816.1 838.4 L821.4 841 L818.2 850 L838.9 852.7 L841.5 839.4 C842 838 842.7 837.3 843.7 836.8 C847.5 834.8 851 832.6 854.3 829.9 C857.6 827.2 860.5 824.5 862.8 821.4 C864.8 818.3 866 815 866.5 811.3 L867 810.8Z" fill="#fff" stroke="#111" stroke-width="1.7" />
<path d="M803.9 825.6 C804.8 829.5 806.3 832.7 808.6 835.2 C811 837.8 814 840.5 817.1 842.6 L820.3 844.7" fill="none" stroke="#111" stroke-width="1.2" />
<path d="M867 810.8 L880.8 825.1 C879.5 828.5 877.8 831.5 875.5 834.1 C872.5 837.5 869 840.3 864.9 842.6 C859 845.5 852.5 847.5 845.8 849 C844 850 843 851.5 842.6 853.2 L839.4 862.8" fill="none" stroke="#111" stroke-width="0.9" />
<path d="M855.9 852.7 C851.5 854 847.5 855.8 843.7 858.5 C842.3 859.8 841.5 861.3 841 862.8" fill="none" stroke="#555" stroke-width="0.6" />
<path d="M825.6 804.4 C825.2 801.5 826.8 799.3 829.5 799 C832.5 798.8 834.6 801 834.6 805.4 M828.3 801.2 L827.8 807.6" fill="none" stroke="#111" stroke-width="1.4" />
<path d="M864 807.6 C863.8 804.8 865.6 802.2 868.3 802.2 C871.5 802.3 873.7 805 873.5 809 M867.5 803.5 L866.4 811" fill="none" stroke="#111" stroke-width="1.4" />
<path d="M904.1 649.8 L1023 691.5 L1023 830.2 L904.1 787Z" fill="none" stroke="#111" stroke-width="1.7" />
<path d="M904.1 649.8 L911.2 645.6 L1029.3 688.7 L1023 691.5 M1029.3 827.3 L1023 830.2" fill="none" stroke="#111" stroke-width="1.0" />
<path d="M919.7 676 L1004.6 706.4 L1004.6 804.7 L919.7 774.3Z" fill="none" stroke="#111" stroke-width="1.8" />
<ellipse cx="962.1" cy="740.7" rx="31.8" ry="46.3" transform="rotate(-29 962.1 740.7)" fill="none" stroke="#111" stroke-width="1.35"/>
<path d="M945.2 724.8 C946.5 735 949.5 743.5 953.7 750.2 C958 757.5 963.5 763.5 969.2 767.2 C975 771 981 773.5 987.6 774.3" fill="none" stroke="#444" stroke-width="0.6" />
<ellipse cx="961.4" cy="724.1" rx="3.6" ry="4.8" transform="rotate(-20 961.4 724.1)" fill="none" stroke="#111" stroke-width="1.2"/>
<ellipse cx="980.5" cy="731.1" rx="2.2" ry="2.9" transform="rotate(-20 980.5 731.1)" fill="none" stroke="#111" stroke-width="1.2"/>
<ellipse cx="973" cy="712.3" rx="3" ry="3.6" transform="rotate(-20 973 712.3)" fill="none" stroke="#111" stroke-width="1.2"/>
<path d="M972.5 708.7 L978.5 711.5 L980 713.5 M974.5 715.8 L979.5 714 M972 711 C973.5 710.8 974.5 712 974.3 713.5" fill="none" stroke="#111" stroke-width="0.8" />
</g>
</svg></body></html>
